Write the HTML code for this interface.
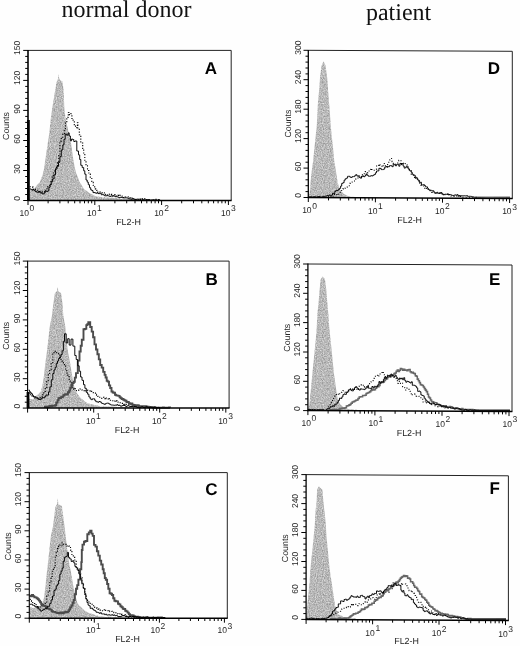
<!DOCTYPE html>
<html><head><meta charset="utf-8"><title>Figure</title>
<style>html,body{margin:0;padding:0;background:#fff}svg{display:block}</style></head>
<body><svg width="520" height="646" viewBox="0 0 520 646">
<rect width="520" height="646" fill="#fefefe"/>
<defs><filter id="nz" x="0" y="0" width="100%" height="100%" color-interpolation-filters="sRGB">
<feTurbulence type="fractalNoise" baseFrequency="0.85" numOctaves="2" seed="3" result="t"/>
<feColorMatrix in="t" type="matrix" values="0.45 0 0 0 0.50  0.45 0 0 0 0.50  0.45 0 0 0 0.50  0 0 0 0 1" result="g"/>
<feComposite in="g" in2="SourceGraphic" operator="in"/>
</filter></defs>
<g style="text-rendering:geometricPrecision" opacity="0.995">
<text x="126.4" y="17.2" text-anchor="middle" style="font-family:'Liberation Serif',serif;font-size:24px" fill="#111">normal donor</text>
<text x="398.6" y="19.8" text-anchor="middle" style="font-family:'Liberation Serif',serif;font-size:24px" fill="#111">patient</text>
<path d="M28.0 189.6 L29.7 189.6 L31.3 190.2 L33.0 190.1 L34.6 188.3 L36.2 186.3 L37.9 184.1 L39.6 182.7 L42.0 176.5 L43.7 171.0 L45.4 159.0 L47.2 147.1 L48.9 136.0 L50.1 125.3 L50.9 117.5 L52.3 107.7 L53.8 98.7 L55.2 90.1 L56.6 82.1 L58.0 79.0 L58.6 74.1 L59.2 78.5 L60.5 80.6 L62.4 81.3 L63.4 88.3 L63.9 97.6 L64.3 107.6 L65.5 118.2 L67.5 127.2 L69.2 134.9 L71.0 142.6 L73.3 159.7 L75.6 171.4 L77.7 176.7 L79.7 182.2 L81.7 185.2 L83.7 188.7 L85.3 189.9 L86.8 190.9 L88.4 192.3 L90.0 193.4 L91.7 194.0 L93.5 195.2 L95.2 196.0 L96.9 196.4 L98.4 196.6 L100.0 196.8 L101.5 197.2 L103.1 197.4 L104.6 197.1 L106.1 197.7 L107.7 197.3 L109.2 197.4 L110.8 197.8 L112.3 197.6 L113.8 197.9 L115.4 197.7 L116.9 198.2 L118.5 198.5 L120.0 198.6 L121.5 198.9 L123.0 198.6 L124.5 198.8 L126.0 198.9 L127.5 198.9 L129.0 198.9 L130.5 199.2 L132.0 199.4 L133.5 199.3 L135.0 199.3 L136.5 199.0 L138.0 199.3 L139.5 199.5 L141.0 199.8 L142.5 199.9 L144.0 199.6 L145.5 199.5 L147.0 199.8 L148.5 199.5 L150.0 199.7 L150.0 200.5 L28.0 200.5 Z" fill="#b0b0b0" stroke="none" filter="url(#nz)"/>
<path d="M29.6 186.7 L30.8 186.7 L30.8 186.9 L31.9 186.9 L31.9 187.1 L33.1 187.1 L33.1 189.2 L34.2 189.2 L34.2 189.0 L35.4 189.0 L35.4 189.6 L36.6 189.6 L36.6 190.2 L37.7 190.2 L37.7 191.6 L38.9 191.6 L38.9 190.7 L40.0 190.7 L40.0 191.3 L41.2 191.3 L41.2 191.9 L42.3 191.9 L42.3 192.2 L43.5 192.2 L43.5 191.8 L44.6 191.8 L44.6 191.4 L45.8 191.4 L45.8 189.7 L46.9 189.7 L46.9 188.8 L47.9 188.8 L47.9 186.6 L49.0 186.6 L49.0 185.8 L50.0 185.8 L50.0 184.5 L51.0 184.5 L51.0 180.7 L52.2 180.7 L52.2 176.6 L53.3 176.6 L53.3 173.0 L54.5 173.0 L54.5 169.6 L55.5 169.6 L55.5 167.6 L56.5 167.6 L56.5 165.7 L57.5 165.7 L57.5 162.2 L58.8 162.2 L58.8 154.8 L59.9 154.8 L59.9 141.1 L61.3 141.1 L61.3 137.2 L62.8 137.2 L62.8 134.1 L64.4 134.1 L64.4 130.8 L65.4 130.8 L65.4 123.0 L66.8 123.0 L66.8 117.2 L68.3 117.2 L68.3 112.5 L69.5 112.5 L69.5 114.8 L70.7 114.8 L70.7 113.8 L71.9 113.8 L71.9 118.5 L73.1 118.5 L73.1 121.1 L74.3 121.1 L74.3 124.7 L75.5 124.7 L75.5 127.6 L77.4 127.6 L77.4 122.7 L77.9 122.7 L77.9 128.6 L79.3 128.6 L79.3 134.7 L80.8 134.7 L80.8 143.0 L82.7 143.0 L82.7 150.1 L83.7 150.1 L83.7 154.6 L84.8 154.6 L84.8 160.3 L86.0 160.3 L86.0 165.8 L87.5 165.8 L87.5 170.5 L88.9 170.5 L88.9 174.0 L90.3 174.0 L90.3 177.8 L91.8 177.8 L91.8 182.3 L93.2 182.3 L93.2 185.3 L94.7 185.3 L94.7 188.9 L95.7 188.9 L95.7 189.1 L96.8 189.1 L96.8 191.4 L97.8 191.4 L97.8 192.2 L98.8 192.2 L98.8 191.9 L99.9 191.9 L99.9 192.1 L101.0 192.1 L101.0 192.5 L102.1 192.5 L102.1 192.9 L103.2 192.9 L103.2 192.7 L104.3 192.7 L104.3 194.2 L105.4 194.2 L105.4 195.3 L106.5 195.3 L106.5 195.0 L107.5 195.0 L107.5 194.9 L108.6 194.9 L108.6 194.2 L109.6 194.2 L109.6 194.0 L110.7 194.0 L110.7 194.4 L111.7 194.4 L111.7 194.5 L112.7 194.5 L112.7 195.6 L113.8 195.6 L113.8 195.0 L114.8 195.0 L114.8 194.6 L115.8 194.6 L115.8 196.0 L116.9 196.0 L116.9 196.0 L117.9 196.0 L117.9 195.4 L119.0 195.4 L119.0 195.9 L120.0 195.9 L120.0 195.3 L121.0 195.3 L121.0 196.0 L122.1 196.0 L122.1 197.2 L123.1 197.2 L123.1 197.6 L124.1 197.6 L124.1 197.6 L125.1 197.6 L125.1 197.0 L126.2 197.0 L126.2 197.0 L127.2 197.0 L127.2 196.8 L128.2 196.8 L128.2 197.7 L129.2 197.7 L129.2 197.9 L130.3 197.9 L130.3 198.4 L131.3 198.4 L131.3 198.1 L132.3 198.1 L132.3 197.9 L133.4 197.9 L133.4 198.7 L134.4 198.7 L134.4 199.4 L135.4 199.4 L135.4 199.6 L136.4 199.6 L136.4 199.7 L137.5 199.7 L137.5 199.9 L138.5 199.9 L138.5 199.9 L139.5 199.9 L139.5 199.3 L140.5 199.3 L140.5 199.4 L141.6 199.4 L141.6 199.2 L142.6 199.2 L142.6 198.8 L143.6 198.8 L143.6 198.6 L144.6 198.6 L144.6 198.9 L145.7 198.9 L145.7 199.0 L146.7 199.0 L146.7 199.5 L147.7 199.5 L147.7 200.1 L148.7 200.1 L148.7 199.8 L149.8 199.8 L149.8 200.2 L150.8 200.2 L150.8 200.2 L151.8 200.2 L151.8 200.2 L152.8 200.2 L152.8 200.0 L153.9 200.0 L153.9 199.6 L154.9 199.6 L154.9 199.5 L155.9 199.5 L155.9 199.4 L156.9 199.4 L156.9 199.4 L158.0 199.4 L158.0 199.8 L159.0 199.8 L159.0 200.2 L160.0 200.2 L160.0 200.2" fill="none" stroke="#000" stroke-width="1.1" stroke-dasharray="1.2 1.6"/>
<path d="M29.6 188.8 L30.7 188.8 L30.7 189.4 L31.8 189.4 L31.8 190.2 L32.8 190.2 L32.8 189.3 L33.9 189.3 L33.9 190.3 L35.0 190.3 L35.0 191.3 L36.0 191.3 L36.0 191.8 L37.0 191.8 L37.0 192.2 L38.0 192.2 L38.0 192.1 L39.0 192.1 L39.0 191.7 L40.0 191.7 L40.0 192.9 L41.0 192.9 L41.0 192.8 L42.0 192.8 L42.0 193.8 L43.2 193.8 L43.2 193.8 L44.3 193.8 L44.3 192.3 L45.5 192.3 L45.5 191.3 L46.6 191.3 L46.6 191.5 L47.8 191.5 L47.8 190.8 L48.9 190.8 L48.9 187.3 L50.1 187.3 L50.1 184.4 L51.2 184.4 L51.2 181.7 L52.7 181.7 L52.7 178.8 L54.1 178.8 L54.1 174.8 L55.5 174.8 L55.5 169.1 L57.0 169.1 L57.0 166.3 L58.5 166.3 L58.5 162.3 L59.9 162.3 L59.9 156.6 L61.3 156.6 L61.3 150.0 L62.8 150.0 L62.8 144.9 L64.0 144.9 L64.0 139.3 L65.2 139.3 L65.2 134.1 L66.7 134.1 L66.7 135.1 L68.1 135.1 L68.1 132.9 L69.2 132.9 L69.2 136.0 L70.4 136.0 L70.4 140.8 L71.6 140.8 L71.6 139.0 L72.7 139.0 L72.7 139.5 L73.8 139.5 L73.8 141.5 L75.0 141.5 L75.0 141.0 L76.8 141.0 L76.8 151.0 L78.5 151.0 L78.5 154.9 L79.7 154.9 L79.7 159.5 L80.8 159.5 L80.8 165.3 L82.2 165.3 L82.2 167.6 L83.7 167.6 L83.7 170.8 L84.8 170.8 L84.8 174.2 L86.0 174.2 L86.0 180.0 L87.2 180.0 L87.2 182.1 L88.3 182.1 L88.3 184.7 L89.5 184.7 L89.5 187.7 L90.7 187.7 L90.7 189.8 L91.8 189.8 L91.8 190.6 L93.0 190.6 L93.0 192.6 L94.0 192.6 L94.0 192.6 L95.0 192.6 L95.0 192.9 L96.0 192.9 L96.0 193.2 L97.0 193.2 L97.0 192.8 L98.0 192.8 L98.0 193.6 L99.1 193.6 L99.1 193.6 L100.2 193.6 L100.2 193.4 L101.3 193.4 L101.3 194.8 L102.4 194.8 L102.4 194.5 L103.5 194.5 L103.5 195.1 L104.6 195.1 L104.6 195.8 L105.6 195.8 L105.6 195.9 L106.7 195.9 L106.7 195.6 L107.7 195.6 L107.7 195.8 L108.7 195.8 L108.7 196.0 L109.7 196.0 L109.7 196.5 L110.8 196.5 L110.8 195.8 L111.8 195.8 L111.8 196.2 L112.8 196.2 L112.8 195.9 L113.8 195.9 L113.8 195.9 L114.9 195.9 L114.9 196.7 L115.9 196.7 L115.9 196.7 L116.9 196.7 L116.9 196.8 L117.9 196.8 L117.9 197.2 L119.0 197.2 L119.0 197.7 L120.0 197.7 L120.0 197.3 L121.0 197.3 L121.0 197.4 L122.1 197.4 L122.1 197.4 L123.1 197.4 L123.1 197.5 L124.1 197.5 L124.1 197.9 L125.1 197.9 L125.1 197.8 L126.2 197.8 L126.2 197.9 L127.2 197.9 L127.2 198.0 L128.2 198.0 L128.2 198.7 L129.2 198.7 L129.2 198.8 L130.3 198.8 L130.3 199.1 L131.3 199.1 L131.3 199.4 L132.3 199.4 L132.3 198.8 L133.4 198.8 L133.4 199.0 L134.4 199.0 L134.4 199.6 L135.4 199.6 L135.4 199.8 L136.4 199.8 L136.4 199.2 L137.5 199.2 L137.5 199.0 L138.5 199.0 L138.5 199.3 L139.5 199.3 L139.5 199.1 L140.5 199.1 L140.5 199.1 L141.6 199.1 L141.6 199.0 L142.6 199.0 L142.6 199.6 L143.6 199.6 L143.6 199.9 L144.6 199.9 L144.6 200.2 L145.7 200.2 L145.7 199.6 L146.7 199.6 L146.7 199.9 L147.7 199.9 L147.7 200.0 L148.7 200.0 L148.7 199.6 L149.8 199.6 L149.8 200.1 L150.8 200.1 L150.8 200.2 L151.8 200.2 L151.8 199.8 L152.8 199.8 L152.8 200.2 L153.9 200.2 L153.9 200.0 L154.9 200.0 L154.9 199.9 L155.9 199.9 L155.9 200.2 L156.9 200.2 L156.9 200.2 L158.0 200.2 L158.0 199.9 L159.0 199.9 L159.0 199.9 L160.0 199.9 L160.0 200.0" fill="none" stroke="#000" stroke-width="0.95"/>
<rect x="27.0" y="120.0" width="2.8" height="80.5" fill="#000"/>
<path d="M28.0 50.4 L231.2 50.4 L231.2 200.5" fill="none" stroke="#222" stroke-width="1"/>
<line x1="28.0" y1="50.0" x2="28.0" y2="201.1" stroke="#000" stroke-width="1.6"/>
<line x1="27.4" y1="200.5" x2="231.6" y2="200.5" stroke="#000" stroke-width="1.5"/>
<line x1="23.2" y1="50.4" x2="28.0" y2="50.4" stroke="#000" stroke-width="1"/>
<line x1="25.2" y1="56.4" x2="28.0" y2="56.4" stroke="#000" stroke-width="1"/>
<line x1="25.2" y1="62.4" x2="28.0" y2="62.4" stroke="#000" stroke-width="1"/>
<line x1="25.2" y1="68.4" x2="28.0" y2="68.4" stroke="#000" stroke-width="1"/>
<line x1="25.2" y1="74.4" x2="28.0" y2="74.4" stroke="#000" stroke-width="1"/>
<line x1="23.2" y1="80.4" x2="28.0" y2="80.4" stroke="#000" stroke-width="1"/>
<line x1="25.2" y1="86.4" x2="28.0" y2="86.4" stroke="#000" stroke-width="1"/>
<line x1="25.2" y1="92.4" x2="28.0" y2="92.4" stroke="#000" stroke-width="1"/>
<line x1="25.2" y1="98.4" x2="28.0" y2="98.4" stroke="#000" stroke-width="1"/>
<line x1="25.2" y1="104.4" x2="28.0" y2="104.4" stroke="#000" stroke-width="1"/>
<line x1="23.2" y1="110.4" x2="28.0" y2="110.4" stroke="#000" stroke-width="1"/>
<line x1="25.2" y1="116.4" x2="28.0" y2="116.4" stroke="#000" stroke-width="1"/>
<line x1="25.2" y1="122.4" x2="28.0" y2="122.4" stroke="#000" stroke-width="1"/>
<line x1="25.2" y1="128.5" x2="28.0" y2="128.5" stroke="#000" stroke-width="1"/>
<line x1="25.2" y1="134.5" x2="28.0" y2="134.5" stroke="#000" stroke-width="1"/>
<line x1="23.2" y1="140.5" x2="28.0" y2="140.5" stroke="#000" stroke-width="1"/>
<line x1="25.2" y1="146.5" x2="28.0" y2="146.5" stroke="#000" stroke-width="1"/>
<line x1="25.2" y1="152.5" x2="28.0" y2="152.5" stroke="#000" stroke-width="1"/>
<line x1="25.2" y1="158.5" x2="28.0" y2="158.5" stroke="#000" stroke-width="1"/>
<line x1="25.2" y1="164.5" x2="28.0" y2="164.5" stroke="#000" stroke-width="1"/>
<line x1="23.2" y1="170.5" x2="28.0" y2="170.5" stroke="#000" stroke-width="1"/>
<line x1="25.2" y1="176.5" x2="28.0" y2="176.5" stroke="#000" stroke-width="1"/>
<line x1="25.2" y1="182.5" x2="28.0" y2="182.5" stroke="#000" stroke-width="1"/>
<line x1="25.2" y1="188.5" x2="28.0" y2="188.5" stroke="#000" stroke-width="1"/>
<line x1="25.2" y1="194.5" x2="28.0" y2="194.5" stroke="#000" stroke-width="1"/>
<line x1="23.2" y1="200.5" x2="28.0" y2="200.5" stroke="#000" stroke-width="1"/>
<text transform="translate(19.7 47.8) rotate(-90)" text-anchor="middle" style="font-family:'Liberation Sans',sans-serif;font-size:8.5px" fill="#222">150</text>
<text transform="translate(19.7 77.8) rotate(-90)" text-anchor="middle" style="font-family:'Liberation Sans',sans-serif;font-size:8.5px" fill="#222">120</text>
<text transform="translate(19.7 108.9) rotate(-90)" text-anchor="middle" style="font-family:'Liberation Sans',sans-serif;font-size:8.5px" fill="#222">90</text>
<text transform="translate(19.7 139.0) rotate(-90)" text-anchor="middle" style="font-family:'Liberation Sans',sans-serif;font-size:8.5px" fill="#222">60</text>
<text transform="translate(19.7 169.0) rotate(-90)" text-anchor="middle" style="font-family:'Liberation Sans',sans-serif;font-size:8.5px" fill="#222">30</text>
<text transform="translate(19.7 198.5) rotate(-90)" text-anchor="middle" style="font-family:'Liberation Sans',sans-serif;font-size:8.5px" fill="#222">0</text>
<text transform="translate(9.4 126.0) rotate(-90)" text-anchor="middle" style="font-family:'Liberation Sans',sans-serif;font-size:8.8px" fill="#222">Counts</text>
<line x1="28.0" y1="200.5" x2="28.0" y2="205.0" stroke="#000" stroke-width="1"/>
<line x1="48.1" y1="200.5" x2="48.1" y2="203.3" stroke="#000" stroke-width="1"/>
<line x1="59.9" y1="200.5" x2="59.9" y2="203.3" stroke="#000" stroke-width="1"/>
<line x1="68.2" y1="200.5" x2="68.2" y2="203.3" stroke="#000" stroke-width="1"/>
<line x1="74.7" y1="200.5" x2="74.7" y2="203.3" stroke="#000" stroke-width="1"/>
<line x1="80.0" y1="200.5" x2="80.0" y2="203.3" stroke="#000" stroke-width="1"/>
<line x1="84.5" y1="200.5" x2="84.5" y2="203.3" stroke="#000" stroke-width="1"/>
<line x1="88.3" y1="200.5" x2="88.3" y2="203.3" stroke="#000" stroke-width="1"/>
<line x1="91.7" y1="200.5" x2="91.7" y2="203.3" stroke="#000" stroke-width="1"/>
<line x1="94.8" y1="200.5" x2="94.8" y2="205.0" stroke="#000" stroke-width="1"/>
<line x1="114.9" y1="200.5" x2="114.9" y2="203.3" stroke="#000" stroke-width="1"/>
<line x1="126.7" y1="200.5" x2="126.7" y2="203.3" stroke="#000" stroke-width="1"/>
<line x1="135.0" y1="200.5" x2="135.0" y2="203.3" stroke="#000" stroke-width="1"/>
<line x1="141.5" y1="200.5" x2="141.5" y2="203.3" stroke="#000" stroke-width="1"/>
<line x1="146.8" y1="200.5" x2="146.8" y2="203.3" stroke="#000" stroke-width="1"/>
<line x1="151.3" y1="200.5" x2="151.3" y2="203.3" stroke="#000" stroke-width="1"/>
<line x1="155.1" y1="200.5" x2="155.1" y2="203.3" stroke="#000" stroke-width="1"/>
<line x1="158.5" y1="200.5" x2="158.5" y2="203.3" stroke="#000" stroke-width="1"/>
<line x1="161.6" y1="200.5" x2="161.6" y2="205.0" stroke="#000" stroke-width="1"/>
<line x1="181.7" y1="200.5" x2="181.7" y2="203.3" stroke="#000" stroke-width="1"/>
<line x1="193.5" y1="200.5" x2="193.5" y2="203.3" stroke="#000" stroke-width="1"/>
<line x1="201.8" y1="200.5" x2="201.8" y2="203.3" stroke="#000" stroke-width="1"/>
<line x1="208.3" y1="200.5" x2="208.3" y2="203.3" stroke="#000" stroke-width="1"/>
<line x1="213.6" y1="200.5" x2="213.6" y2="203.3" stroke="#000" stroke-width="1"/>
<line x1="218.1" y1="200.5" x2="218.1" y2="203.3" stroke="#000" stroke-width="1"/>
<line x1="221.9" y1="200.5" x2="221.9" y2="203.3" stroke="#000" stroke-width="1"/>
<line x1="225.3" y1="200.5" x2="225.3" y2="203.3" stroke="#000" stroke-width="1"/>
<line x1="228.4" y1="200.5" x2="228.4" y2="205.0" stroke="#000" stroke-width="1"/>
<text x="29.0" y="215.6" text-anchor="end" style="font-family:'Liberation Sans',sans-serif;font-size:8.5px" fill="#222">10</text>
<text x="29.6" y="211.0" text-anchor="start" style="font-family:'Liberation Sans',sans-serif;font-size:8.5px" fill="#222">0</text>
<text x="96.5" y="215.6" text-anchor="end" style="font-family:'Liberation Sans',sans-serif;font-size:8.5px" fill="#222">10</text>
<text x="97.1" y="211.0" text-anchor="start" style="font-family:'Liberation Sans',sans-serif;font-size:8.5px" fill="#222">1</text>
<text x="163.6" y="215.6" text-anchor="end" style="font-family:'Liberation Sans',sans-serif;font-size:8.5px" fill="#222">10</text>
<text x="164.2" y="211.0" text-anchor="start" style="font-family:'Liberation Sans',sans-serif;font-size:8.5px" fill="#222">2</text>
<text x="230.4" y="215.6" text-anchor="end" style="font-family:'Liberation Sans',sans-serif;font-size:8.5px" fill="#222">10</text>
<text x="231.0" y="211.0" text-anchor="start" style="font-family:'Liberation Sans',sans-serif;font-size:8.5px" fill="#222">3</text>
<text x="128.5" y="225.0" text-anchor="middle" style="font-family:'Liberation Sans',sans-serif;font-size:8.9px" fill="#222">FL2-H</text>
<text x="210.9" y="74.0" text-anchor="middle" style="font-family:'Liberation Sans',sans-serif;font-size:17px;font-weight:bold" fill="#000">A</text>
<path d="M27.6 398.8 L29.4 398.8 L31.2 399.0 L33.0 399.6 L34.8 397.1 L36.6 395.5 L38.7 393.8 L40.7 391.6 L42.4 385.9 L44.1 374.8 L45.3 363.2 L47.0 350.9 L48.2 340.5 L49.6 327.2 L51.9 316.1 L53.4 303.0 L54.9 293.3 L57.0 290.7 L57.7 287.0 L58.4 291.5 L61.0 292.9 L62.4 302.6 L63.3 315.4 L65.4 327.3 L66.2 337.9 L67.9 351.0 L70.2 363.6 L72.0 375.1 L74.3 386.8 L76.0 391.9 L78.4 395.1 L79.9 397.2 L81.5 398.7 L83.0 399.8 L84.5 401.3 L86.1 402.2 L87.7 403.2 L89.2 403.5 L90.9 404.3 L92.5 404.2 L94.2 405.1 L95.8 405.3 L97.5 405.6 L99.1 406.1 L100.8 406.8 L102.3 406.5 L103.9 406.3 L105.4 406.6 L106.9 406.5 L108.5 406.4 L110.0 406.5 L111.6 406.4 L113.1 406.5 L114.6 406.7 L116.2 406.8 L117.7 407.2 L119.2 407.1 L120.8 407.2 L122.3 407.1 L123.9 407.2 L125.4 407.0 L126.9 407.2 L128.5 407.1 L130.0 407.5 L130.0 408.1 L27.6 408.1 Z" fill="#b0b0b0" stroke="none" filter="url(#nz)"/>
<path d="M28.5 393.1 L29.6 393.1 L29.6 393.3 L30.8 393.3 L30.8 394.6 L31.9 394.6 L31.9 396.8 L33.0 396.8 L33.0 396.5 L34.0 396.5 L34.0 397.9 L35.0 397.9 L35.0 397.9 L36.0 397.9 L36.0 398.2 L37.0 398.2 L37.0 399.3 L38.0 399.3 L38.0 399.1 L39.1 399.1 L39.1 397.9 L40.2 397.9 L40.2 397.2 L41.3 397.2 L41.3 396.9 L42.4 396.9 L42.4 394.7 L43.8 394.7 L43.8 391.4 L45.3 391.4 L45.3 387.4 L46.8 387.4 L46.8 381.5 L48.2 381.5 L48.2 374.9 L49.7 374.9 L49.7 369.6 L51.1 369.6 L51.1 363.6 L52.8 363.6 L52.8 352.8 L54.0 352.8 L54.0 351.2 L55.2 351.2 L55.2 352.5 L56.4 352.5 L56.4 352.8 L57.5 352.8 L57.5 353.2 L58.6 353.2 L58.6 353.8 L59.8 353.8 L59.8 357.6 L61.0 357.6 L61.0 360.9 L62.1 360.9 L62.1 362.6 L63.3 362.6 L63.3 363.0 L64.4 363.0 L64.4 365.7 L65.6 365.7 L65.6 369.0 L66.8 369.0 L66.8 373.0 L67.9 373.0 L67.9 375.7 L69.1 375.7 L69.1 379.2 L70.2 379.2 L70.2 381.8 L71.4 381.8 L71.4 385.6 L72.6 385.6 L72.6 388.4 L73.8 388.4 L73.8 389.4 L75.1 389.4 L75.1 388.8 L76.4 388.8 L76.4 390.7 L77.7 390.7 L77.7 390.2 L78.8 390.2 L78.8 390.0 L79.9 390.0 L79.9 389.0 L81.0 389.0 L81.0 389.7 L82.1 389.7 L82.1 390.3 L83.2 390.3 L83.2 390.7 L84.3 390.7 L84.3 390.2 L85.4 390.2 L85.4 390.8 L86.6 390.8 L86.6 390.1 L87.7 390.1 L87.7 390.7 L88.9 390.7 L88.9 390.7 L90.0 390.7 L90.0 391.7 L91.2 391.7 L91.2 391.4 L92.3 391.4 L92.3 391.6 L93.3 391.6 L93.3 392.6 L94.4 392.6 L94.4 393.1 L95.5 393.1 L95.5 394.4 L96.5 394.4 L96.5 395.1 L97.6 395.1 L97.6 396.2 L98.7 396.2 L98.7 396.7 L99.7 396.7 L99.7 397.3 L100.8 397.3 L100.8 398.2 L101.9 398.2 L101.9 397.5 L102.9 397.5 L102.9 397.3 L104.0 397.3 L104.0 398.7 L105.1 398.7 L105.1 397.7 L106.1 397.7 L106.1 398.6 L107.2 398.6 L107.2 399.0 L108.3 399.0 L108.3 398.0 L109.3 398.0 L109.3 399.4 L110.4 399.4 L110.4 400.3 L111.5 400.3 L111.5 400.3 L112.6 400.3 L112.6 400.8 L113.7 400.8 L113.7 401.3 L114.8 401.3 L114.8 400.4 L115.9 400.4 L115.9 400.9 L117.0 400.9 L117.0 401.3 L118.1 401.3 L118.1 402.3 L119.2 402.3 L119.2 402.8 L120.3 402.8 L120.3 403.4 L121.4 403.4 L121.4 403.4 L122.5 403.4 L122.5 404.2 L123.7 404.2 L123.7 404.4 L124.8 404.4 L124.8 404.8 L125.9 404.8 L125.9 404.4 L127.0 404.4 L127.0 404.2 L128.0 404.2 L128.0 404.3 L129.0 404.3 L129.0 404.8 L130.0 404.8 L130.0 404.7 L131.0 404.7 L131.0 405.8 L132.0 405.8 L132.0 406.0 L133.0 406.0 L133.0 406.3 L134.0 406.3 L134.0 406.5 L135.0 406.5 L135.0 406.8 L136.0 406.8 L136.0 406.7 L137.0 406.7 L137.0 406.2 L138.0 406.2 L138.0 407.1 L139.0 407.1 L139.0 407.5 L140.0 407.5 L140.0 407.5" fill="none" stroke="#000" stroke-width="1.1" stroke-dasharray="1.2 1.6"/>
<path d="M44.0 406.8 L45.0 406.8 L45.0 407.1 L46.0 407.1 L46.0 406.8 L47.0 406.8 L47.0 407.4 L48.0 407.4 L48.0 406.8 L49.0 406.8 L49.0 406.2 L50.1 406.2 L50.1 406.0 L51.1 406.0 L51.1 406.2 L52.1 406.2 L52.1 405.6 L53.2 405.6 L53.2 405.7 L54.2 405.7 L54.2 405.9 L55.2 405.9 L55.2 405.3 L56.3 405.3 L56.3 402.6 L57.5 402.6 L57.5 400.3 L58.6 400.3 L58.6 398.3 L59.8 398.3 L59.8 398.0 L61.0 398.0 L61.0 397.3 L62.1 397.3 L62.1 396.7 L63.3 396.7 L63.3 395.2 L64.5 395.2 L64.5 394.4 L65.6 394.4 L65.6 394.1 L66.8 394.1 L66.8 394.6 L67.9 394.6 L67.9 392.2 L69.1 392.2 L69.1 390.6 L70.2 390.6 L70.2 387.7 L71.4 387.7 L71.4 385.0 L72.5 385.0 L72.5 383.0 L73.7 383.0 L73.7 381.7 L74.8 381.7 L74.8 377.6 L76.0 377.6 L76.0 373.1 L77.8 373.1 L77.8 360.6 L79.5 360.6 L79.5 351.5 L80.7 351.5 L80.7 345.7 L81.8 345.7 L81.8 339.8 L83.5 339.8 L83.5 329.2 L84.9 329.2 L84.9 328.9 L86.3 328.9 L86.3 325.1 L87.3 325.1 L87.3 324.3 L88.3 324.3 L88.3 322.2 L90.2 322.2 L90.2 327.0 L91.7 327.0 L91.7 331.6 L93.1 331.6 L93.1 337.2 L94.5 337.2 L94.5 344.4 L96.0 344.4 L96.0 349.5 L97.4 349.5 L97.4 354.2 L98.8 354.2 L98.8 359.4 L100.2 359.4 L100.2 365.0 L101.7 365.0 L101.7 367.6 L103.2 367.6 L103.2 371.9 L104.6 371.9 L104.6 374.9 L105.6 374.9 L105.6 377.5 L106.7 377.5 L106.7 380.8 L107.7 380.8 L107.7 381.6 L109.0 381.6 L109.0 385.4 L110.2 385.4 L110.2 388.0 L111.5 388.0 L111.5 391.5 L112.7 391.5 L112.7 392.5 L113.8 392.5 L113.8 392.7 L115.0 392.7 L115.0 394.7 L116.1 394.7 L116.1 395.4 L117.3 395.4 L117.3 395.6 L118.4 395.6 L118.4 395.9 L119.6 395.9 L119.6 397.3 L120.7 397.3 L120.7 398.3 L121.9 398.3 L121.9 399.0 L123.0 399.0 L123.0 399.5 L124.2 399.5 L124.2 400.2 L125.3 400.2 L125.3 400.8 L126.5 400.8 L126.5 402.1 L127.6 402.1 L127.6 401.9 L128.8 401.9 L128.8 403.1 L130.0 403.1 L130.0 403.9 L131.1 403.9 L131.1 403.5 L132.3 403.5 L132.3 404.6 L133.4 404.6 L133.4 405.0 L134.6 405.0 L134.6 405.7 L135.7 405.7 L135.7 405.3 L136.8 405.3 L136.8 405.3 L137.9 405.3 L137.9 405.5 L139.0 405.5 L139.0 406.3 L140.1 406.3 L140.1 406.4 L141.2 406.4 L141.2 406.3 L142.3 406.3 L142.3 406.4 L143.3 406.4 L143.3 406.3 L144.4 406.3 L144.4 406.1 L145.4 406.1 L145.4 406.1 L146.5 406.1 L146.5 406.9 L147.5 406.9 L147.5 406.8 L148.6 406.8 L148.6 407.4 L149.6 407.4 L149.6 407.1 L150.7 407.1 L150.7 407.0 L151.7 407.0 L151.7 407.2 L152.8 407.2 L152.8 407.1 L153.8 407.1 L153.8 407.3 L154.8 407.3 L154.8 407.8 L155.8 407.8 L155.8 407.8 L156.8 407.8 L156.8 407.8 L157.9 407.8 L157.9 407.8 L158.9 407.8 L158.9 407.8 L159.9 407.8 L159.9 407.8 L160.9 407.8 L160.9 407.8 L161.9 407.8 L161.9 407.8 L162.9 407.8 L162.9 407.4 L163.9 407.4 L163.9 407.8 L164.9 407.8 L164.9 407.7 L165.9 407.7 L165.9 407.8 L167.0 407.8 L167.0 407.8 L168.0 407.8 L168.0 407.7 L169.0 407.7 L169.0 407.4 L170.0 407.4 L170.0 407.8" fill="none" stroke="#4a4a4a" stroke-width="1.90" stroke-linejoin="miter"/>
<path d="M28.5 390.1 L29.5 390.1 L29.5 391.7 L30.5 391.7 L30.5 392.8 L31.5 392.8 L31.5 393.8 L32.5 393.8 L32.5 395.4 L33.5 395.4 L33.5 397.0 L34.6 397.0 L34.6 396.6 L35.6 396.6 L35.6 397.6 L36.6 397.6 L36.6 397.8 L37.8 397.8 L37.8 398.8 L38.9 398.8 L38.9 399.3 L40.1 399.3 L40.1 399.6 L41.2 399.6 L41.2 398.4 L42.4 398.4 L42.4 397.4 L43.5 397.4 L43.5 397.8 L44.7 397.8 L44.7 396.6 L45.9 396.6 L45.9 395.0 L47.0 395.0 L47.0 395.1 L48.5 395.1 L48.5 391.9 L49.9 391.9 L49.9 386.9 L51.3 386.9 L51.3 379.8 L52.8 379.8 L52.8 373.5 L54.0 373.5 L54.0 369.9 L55.1 369.9 L55.1 367.3 L56.3 367.3 L56.3 363.5 L57.5 363.5 L57.5 361.0 L58.6 361.0 L58.6 358.5 L59.8 358.5 L59.8 356.9 L61.0 356.9 L61.0 354.6 L62.1 354.6 L62.1 350.8 L63.4 350.8 L63.4 341.5 L64.5 341.5 L64.5 333.8 L66.2 333.8 L66.2 343.0 L67.7 343.0 L67.7 338.7 L69.2 338.7 L69.2 345.1 L71.0 345.1 L71.0 339.1 L72.9 339.1 L72.9 346.1 L74.8 346.1 L74.8 355.5 L76.2 355.5 L76.2 359.5 L77.7 359.5 L77.7 365.8 L79.2 365.8 L79.2 371.2 L80.6 371.2 L80.6 377.0 L82.0 377.0 L82.0 380.3 L83.5 380.3 L83.5 384.7 L84.9 384.7 L84.9 388.3 L86.3 388.3 L86.3 392.4 L87.6 392.4 L87.6 394.2 L88.9 394.2 L88.9 397.0 L90.2 397.0 L90.2 398.9 L91.3 398.9 L91.3 399.7 L92.4 399.7 L92.4 398.8 L93.6 398.8 L93.6 398.8 L94.7 398.8 L94.7 400.3 L95.8 400.3 L95.8 401.7 L96.9 401.7 L96.9 401.9 L98.0 401.9 L98.0 402.2 L99.0 402.2 L99.0 401.5 L100.1 401.5 L100.1 401.9 L101.2 401.9 L101.2 403.0 L102.2 403.0 L102.2 403.5 L103.3 403.5 L103.3 403.9 L104.4 403.9 L104.4 404.4 L105.4 404.4 L105.4 403.6 L106.5 403.6 L106.5 403.2 L107.5 403.2 L107.5 403.1 L108.6 403.1 L108.6 403.7 L109.6 403.7 L109.6 404.3 L110.7 404.3 L110.7 405.0 L111.7 405.0 L111.7 405.0 L112.7 405.0 L112.7 405.1 L113.8 405.1 L113.8 405.3 L114.8 405.3 L114.8 405.1 L115.8 405.1 L115.8 405.2 L116.9 405.2 L116.9 404.6 L117.9 404.6 L117.9 405.4 L119.0 405.4 L119.0 405.2 L120.0 405.2 L120.0 406.0 L121.0 406.0 L121.0 406.1 L122.0 406.1 L122.0 405.7 L123.0 405.7 L123.0 405.4 L124.0 405.4 L124.0 405.5 L125.0 405.5 L125.0 406.0 L126.0 406.0 L126.0 406.4 L127.0 406.4 L127.0 405.9 L128.0 405.9 L128.0 405.7 L129.0 405.7 L129.0 406.2 L130.0 406.2 L130.0 406.5 L131.0 406.5 L131.0 406.5 L132.0 406.5 L132.0 406.4 L133.0 406.4 L133.0 406.8 L134.0 406.8 L134.0 406.4 L135.0 406.4 L135.0 406.6 L136.0 406.6 L136.0 406.8 L137.0 406.8 L137.0 407.4 L138.0 407.4 L138.0 407.4 L139.0 407.4 L139.0 407.6 L140.0 407.6 L140.0 407.4 L141.0 407.4 L141.0 407.0 L142.0 407.0 L142.0 406.9 L143.0 406.9 L143.0 407.5 L144.0 407.5 L144.0 407.6 L145.0 407.6 L145.0 407.2 L146.0 407.2 L146.0 406.8 L147.0 406.8 L147.0 407.1 L148.0 407.1 L148.0 407.4 L149.0 407.4 L149.0 407.3 L150.0 407.3 L150.0 407.2 L151.0 407.2 L151.0 407.5 L152.0 407.5 L152.0 407.8 L153.0 407.8 L153.0 407.4 L154.0 407.4 L154.0 407.1 L155.0 407.1 L155.0 407.2 L156.0 407.2 L156.0 407.4 L157.0 407.4 L157.0 407.7 L158.0 407.7 L158.0 407.4 L159.0 407.4 L159.0 407.8 L160.0 407.8 L160.0 407.8" fill="none" stroke="#000" stroke-width="0.95"/>
<rect x="26.6" y="392.0" width="2.8" height="16.1" fill="#000"/>
<path d="M27.6 261.1 L229.1 261.1 L229.1 408.1" fill="none" stroke="#222" stroke-width="1"/>
<line x1="27.6" y1="260.7" x2="27.6" y2="408.7" stroke="#000" stroke-width="1.1"/>
<line x1="27.0" y1="408.1" x2="229.5" y2="408.1" stroke="#000" stroke-width="1.5"/>
<line x1="22.8" y1="261.1" x2="27.6" y2="261.1" stroke="#000" stroke-width="1"/>
<line x1="24.8" y1="267.0" x2="27.6" y2="267.0" stroke="#000" stroke-width="1"/>
<line x1="24.8" y1="272.9" x2="27.6" y2="272.9" stroke="#000" stroke-width="1"/>
<line x1="24.8" y1="278.7" x2="27.6" y2="278.7" stroke="#000" stroke-width="1"/>
<line x1="24.8" y1="284.6" x2="27.6" y2="284.6" stroke="#000" stroke-width="1"/>
<line x1="22.8" y1="290.5" x2="27.6" y2="290.5" stroke="#000" stroke-width="1"/>
<line x1="24.8" y1="296.4" x2="27.6" y2="296.4" stroke="#000" stroke-width="1"/>
<line x1="24.8" y1="302.3" x2="27.6" y2="302.3" stroke="#000" stroke-width="1"/>
<line x1="24.8" y1="308.1" x2="27.6" y2="308.1" stroke="#000" stroke-width="1"/>
<line x1="24.8" y1="314.0" x2="27.6" y2="314.0" stroke="#000" stroke-width="1"/>
<line x1="22.8" y1="319.9" x2="27.6" y2="319.9" stroke="#000" stroke-width="1"/>
<line x1="24.8" y1="325.8" x2="27.6" y2="325.8" stroke="#000" stroke-width="1"/>
<line x1="24.8" y1="331.7" x2="27.6" y2="331.7" stroke="#000" stroke-width="1"/>
<line x1="24.8" y1="337.5" x2="27.6" y2="337.5" stroke="#000" stroke-width="1"/>
<line x1="24.8" y1="343.4" x2="27.6" y2="343.4" stroke="#000" stroke-width="1"/>
<line x1="22.8" y1="349.3" x2="27.6" y2="349.3" stroke="#000" stroke-width="1"/>
<line x1="24.8" y1="355.2" x2="27.6" y2="355.2" stroke="#000" stroke-width="1"/>
<line x1="24.8" y1="361.1" x2="27.6" y2="361.1" stroke="#000" stroke-width="1"/>
<line x1="24.8" y1="366.9" x2="27.6" y2="366.9" stroke="#000" stroke-width="1"/>
<line x1="24.8" y1="372.8" x2="27.6" y2="372.8" stroke="#000" stroke-width="1"/>
<line x1="22.8" y1="378.7" x2="27.6" y2="378.7" stroke="#000" stroke-width="1"/>
<line x1="24.8" y1="384.6" x2="27.6" y2="384.6" stroke="#000" stroke-width="1"/>
<line x1="24.8" y1="390.5" x2="27.6" y2="390.5" stroke="#000" stroke-width="1"/>
<line x1="24.8" y1="396.3" x2="27.6" y2="396.3" stroke="#000" stroke-width="1"/>
<line x1="24.8" y1="402.2" x2="27.6" y2="402.2" stroke="#000" stroke-width="1"/>
<line x1="22.8" y1="408.1" x2="27.6" y2="408.1" stroke="#000" stroke-width="1"/>
<text transform="translate(19.7 258.5) rotate(-90)" text-anchor="middle" style="font-family:'Liberation Sans',sans-serif;font-size:8.5px" fill="#222">150</text>
<text transform="translate(19.7 287.9) rotate(-90)" text-anchor="middle" style="font-family:'Liberation Sans',sans-serif;font-size:8.5px" fill="#222">120</text>
<text transform="translate(19.7 318.4) rotate(-90)" text-anchor="middle" style="font-family:'Liberation Sans',sans-serif;font-size:8.5px" fill="#222">90</text>
<text transform="translate(19.7 347.8) rotate(-90)" text-anchor="middle" style="font-family:'Liberation Sans',sans-serif;font-size:8.5px" fill="#222">60</text>
<text transform="translate(19.7 377.2) rotate(-90)" text-anchor="middle" style="font-family:'Liberation Sans',sans-serif;font-size:8.5px" fill="#222">30</text>
<text transform="translate(19.7 406.1) rotate(-90)" text-anchor="middle" style="font-family:'Liberation Sans',sans-serif;font-size:8.5px" fill="#222">0</text>
<text transform="translate(9.4 335.9) rotate(-90)" text-anchor="middle" style="font-family:'Liberation Sans',sans-serif;font-size:8.8px" fill="#222">Counts</text>
<line x1="27.6" y1="408.1" x2="27.6" y2="412.6" stroke="#000" stroke-width="1"/>
<line x1="47.5" y1="408.1" x2="47.5" y2="410.9" stroke="#000" stroke-width="1"/>
<line x1="59.1" y1="408.1" x2="59.1" y2="410.9" stroke="#000" stroke-width="1"/>
<line x1="67.4" y1="408.1" x2="67.4" y2="410.9" stroke="#000" stroke-width="1"/>
<line x1="73.8" y1="408.1" x2="73.8" y2="410.9" stroke="#000" stroke-width="1"/>
<line x1="79.0" y1="408.1" x2="79.0" y2="410.9" stroke="#000" stroke-width="1"/>
<line x1="83.4" y1="408.1" x2="83.4" y2="410.9" stroke="#000" stroke-width="1"/>
<line x1="87.3" y1="408.1" x2="87.3" y2="410.9" stroke="#000" stroke-width="1"/>
<line x1="90.6" y1="408.1" x2="90.6" y2="410.9" stroke="#000" stroke-width="1"/>
<line x1="93.7" y1="408.1" x2="93.7" y2="412.6" stroke="#000" stroke-width="1"/>
<line x1="113.6" y1="408.1" x2="113.6" y2="410.9" stroke="#000" stroke-width="1"/>
<line x1="125.2" y1="408.1" x2="125.2" y2="410.9" stroke="#000" stroke-width="1"/>
<line x1="133.4" y1="408.1" x2="133.4" y2="410.9" stroke="#000" stroke-width="1"/>
<line x1="139.8" y1="408.1" x2="139.8" y2="410.9" stroke="#000" stroke-width="1"/>
<line x1="145.1" y1="408.1" x2="145.1" y2="410.9" stroke="#000" stroke-width="1"/>
<line x1="149.5" y1="408.1" x2="149.5" y2="410.9" stroke="#000" stroke-width="1"/>
<line x1="153.3" y1="408.1" x2="153.3" y2="410.9" stroke="#000" stroke-width="1"/>
<line x1="156.7" y1="408.1" x2="156.7" y2="410.9" stroke="#000" stroke-width="1"/>
<line x1="159.7" y1="408.1" x2="159.7" y2="412.6" stroke="#000" stroke-width="1"/>
<line x1="179.6" y1="408.1" x2="179.6" y2="410.9" stroke="#000" stroke-width="1"/>
<line x1="191.3" y1="408.1" x2="191.3" y2="410.9" stroke="#000" stroke-width="1"/>
<line x1="199.5" y1="408.1" x2="199.5" y2="410.9" stroke="#000" stroke-width="1"/>
<line x1="205.9" y1="408.1" x2="205.9" y2="410.9" stroke="#000" stroke-width="1"/>
<line x1="211.1" y1="408.1" x2="211.1" y2="410.9" stroke="#000" stroke-width="1"/>
<line x1="215.6" y1="408.1" x2="215.6" y2="410.9" stroke="#000" stroke-width="1"/>
<line x1="219.4" y1="408.1" x2="219.4" y2="410.9" stroke="#000" stroke-width="1"/>
<line x1="222.8" y1="408.1" x2="222.8" y2="410.9" stroke="#000" stroke-width="1"/>
<line x1="225.8" y1="408.1" x2="225.8" y2="412.6" stroke="#000" stroke-width="1"/>
<text x="95.5" y="423.6" text-anchor="end" style="font-family:'Liberation Sans',sans-serif;font-size:8.5px" fill="#222">10</text>
<text x="96.1" y="419.0" text-anchor="start" style="font-family:'Liberation Sans',sans-serif;font-size:8.5px" fill="#222">1</text>
<text x="161.5" y="423.6" text-anchor="end" style="font-family:'Liberation Sans',sans-serif;font-size:8.5px" fill="#222">10</text>
<text x="162.1" y="419.0" text-anchor="start" style="font-family:'Liberation Sans',sans-serif;font-size:8.5px" fill="#222">2</text>
<text x="227.6" y="423.6" text-anchor="end" style="font-family:'Liberation Sans',sans-serif;font-size:8.5px" fill="#222">10</text>
<text x="228.2" y="419.0" text-anchor="start" style="font-family:'Liberation Sans',sans-serif;font-size:8.5px" fill="#222">3</text>
<text x="127.1" y="432.8" text-anchor="middle" style="font-family:'Liberation Sans',sans-serif;font-size:8.9px" fill="#222">FL2-H</text>
<text x="211.6" y="285.2" text-anchor="middle" style="font-family:'Liberation Sans',sans-serif;font-size:17px;font-weight:bold" fill="#000">B</text>
<path d="M29.4 607.5 L31.0 607.3 L32.7 608.1 L34.4 607.8 L36.0 608.3 L37.7 607.1 L39.5 606.1 L41.2 605.8 L43.0 602.0 L44.1 596.9 L45.6 585.0 L46.8 572.8 L48.2 560.9 L49.5 548.6 L50.8 536.5 L53.1 525.8 L54.6 512.9 L55.4 507.0 L57.0 504.2 L57.7 498.2 L58.4 504.5 L60.1 505.0 L61.9 505.9 L62.7 512.3 L64.4 525.2 L65.8 537.3 L67.3 549.8 L69.1 562.8 L71.4 574.4 L73.1 585.1 L75.5 596.1 L77.2 602.6 L79.5 606.1 L81.1 606.9 L82.6 608.8 L84.2 610.2 L85.9 611.3 L87.5 612.3 L89.2 613.3 L90.9 613.5 L92.5 614.1 L94.2 614.6 L95.8 615.5 L97.5 615.5 L99.1 616.4 L100.8 616.4 L102.3 616.4 L103.9 616.8 L105.4 617.0 L106.9 616.9 L108.5 616.6 L110.0 616.8 L111.6 616.8 L113.1 617.3 L114.6 617.0 L116.2 617.0 L117.7 617.5 L119.2 617.1 L120.8 617.2 L122.3 617.6 L123.9 617.8 L125.4 617.4 L126.9 617.3 L128.5 617.3 L130.0 617.9 L130.0 618.2 L29.4 618.2 Z" fill="#b0b0b0" stroke="none" filter="url(#nz)"/>
<path d="M29.6 599.4 L31.5 599.4 L31.5 601.4 L32.7 601.4 L32.7 603.4 L33.8 603.4 L33.8 603.5 L35.0 603.5 L35.0 604.1 L36.1 604.1 L36.1 606.6 L37.3 606.6 L37.3 607.6 L38.3 607.6 L38.3 606.6 L39.4 606.6 L39.4 607.0 L40.4 607.0 L40.4 606.3 L41.4 606.3 L41.4 605.7 L42.5 605.7 L42.5 604.8 L43.5 604.8 L43.5 606.0 L45.3 606.0 L45.3 602.1 L46.8 602.1 L46.8 596.1 L48.2 596.1 L48.2 591.2 L49.7 591.2 L49.7 582.8 L51.1 582.8 L51.1 576.5 L52.2 576.5 L52.2 571.3 L53.4 571.3 L53.4 567.7 L55.2 567.7 L55.2 557.3 L56.3 557.3 L56.3 552.7 L57.5 552.7 L57.5 548.6 L58.6 548.6 L58.6 546.1 L59.8 546.1 L59.8 545.1 L61.0 545.1 L61.0 545.8 L62.0 545.8 L62.0 542.9 L63.0 542.9 L63.0 544.2 L64.0 544.2 L64.0 544.3 L65.0 544.3 L65.0 544.4 L66.0 544.4 L66.0 545.8 L67.0 545.8 L67.0 546.3 L68.0 546.3 L68.0 545.9 L69.0 545.9 L69.0 546.4 L70.5 546.4 L70.5 550.1 L71.9 550.1 L71.9 555.8 L73.3 555.8 L73.3 557.4 L74.8 557.4 L74.8 560.8 L76.2 560.8 L76.2 567.2 L77.7 567.2 L77.7 570.4 L79.2 570.4 L79.2 573.6 L80.6 573.6 L80.6 577.5 L82.0 577.5 L82.0 583.8 L83.5 583.8 L83.5 588.6 L84.9 588.6 L84.9 594.4 L86.3 594.4 L86.3 598.8 L87.6 598.8 L87.6 601.8 L88.9 601.8 L88.9 602.7 L90.2 602.7 L90.2 604.2 L91.3 604.2 L91.3 604.3 L92.4 604.3 L92.4 605.7 L93.6 605.7 L93.6 607.1 L94.7 607.1 L94.7 607.5 L95.8 607.5 L95.8 607.6 L96.9 607.6 L96.9 608.4 L98.0 608.4 L98.0 609.1 L99.0 609.1 L99.0 609.6 L100.1 609.6 L100.1 610.1 L101.2 610.1 L101.2 610.7 L102.2 610.7 L102.2 610.7 L103.3 610.7 L103.3 609.7 L104.4 609.7 L104.4 610.8 L105.4 610.8 L105.4 610.4 L106.5 610.4 L106.5 610.8 L107.5 610.8 L107.5 610.8 L108.6 610.8 L108.6 611.6 L109.6 611.6 L109.6 611.1 L110.6 611.1 L110.6 611.1 L111.7 611.1 L111.7 611.2 L112.7 611.2 L112.7 611.2 L113.8 611.2 L113.8 612.7 L114.8 612.7 L114.8 612.9 L115.8 612.9 L115.8 612.7 L116.9 612.7 L116.9 612.8 L117.9 612.8 L117.9 614.0 L118.9 614.0 L118.9 613.9 L120.0 613.9 L120.0 613.5 L121.0 613.5 L121.0 614.4 L122.1 614.4 L122.1 614.8 L123.2 614.8 L123.2 615.7 L124.3 615.7 L124.3 614.9 L125.5 614.9 L125.5 615.3 L126.6 615.3 L126.6 616.2 L127.7 616.2 L127.7 616.8 L128.8 616.8 L128.8 617.3 L129.8 617.3 L129.8 616.4 L130.8 616.4 L130.8 616.3 L131.9 616.3 L131.9 616.1 L132.9 616.1 L132.9 616.2 L133.9 616.2 L133.9 617.2 L134.9 617.2 L134.9 617.3 L135.9 617.3 L135.9 617.7 L136.9 617.7 L136.9 617.4 L138.0 617.4 L138.0 617.8 L139.0 617.8 L139.0 617.6 L140.0 617.6 L140.0 617.3" fill="none" stroke="#000" stroke-width="1.1" stroke-dasharray="1.2 1.6"/>
<path d="M29.6 595.8 L30.8 595.8 L30.8 596.4 L32.0 596.4 L32.0 594.9 L33.1 594.9 L33.1 596.1 L34.3 596.1 L34.3 597.2 L35.5 597.2 L35.5 597.4 L36.6 597.4 L36.6 598.2 L37.8 598.2 L37.8 599.2 L38.9 599.2 L38.9 600.6 L40.1 600.6 L40.1 602.2 L41.2 602.2 L41.2 604.3 L42.4 604.3 L42.4 605.5 L43.5 605.5 L43.5 605.8 L44.7 605.8 L44.7 606.1 L45.9 606.1 L45.9 607.3 L47.0 607.3 L47.0 608.5 L48.2 608.5 L48.2 608.6 L49.4 608.6 L49.4 609.2 L50.5 609.2 L50.5 609.6 L51.7 609.6 L51.7 611.2 L52.9 611.2 L52.9 611.9 L54.0 611.9 L54.0 611.9 L55.2 611.9 L55.2 612.4 L56.4 612.4 L56.4 612.7 L57.5 612.7 L57.5 613.0 L58.7 613.0 L58.7 613.3 L59.8 613.3 L59.8 612.7 L61.0 612.7 L61.0 612.5 L62.1 612.5 L62.1 613.2 L63.3 613.2 L63.3 612.7 L64.4 612.7 L64.4 612.2 L65.6 612.2 L65.6 611.8 L66.7 611.8 L66.7 612.3 L67.9 612.3 L67.9 611.4 L69.1 611.4 L69.1 609.6 L70.2 609.6 L70.2 607.4 L71.4 607.4 L71.4 605.5 L72.6 605.5 L72.6 602.8 L73.7 602.8 L73.7 600.0 L74.8 600.0 L74.8 594.3 L76.0 594.3 L76.0 588.8 L77.2 588.8 L77.2 585.1 L78.4 585.1 L78.4 579.6 L80.1 579.6 L80.1 569.2 L81.3 569.2 L81.3 562.1 L81.8 562.1 L81.8 550.0 L82.5 550.0 L82.5 544.6 L84.0 544.6 L84.0 541.7 L85.4 541.7 L85.4 541.0 L87.3 541.0 L87.3 534.3 L88.8 534.3 L88.8 532.4 L90.2 532.4 L90.2 530.7 L91.5 530.7 L91.5 533.6 L92.7 533.6 L92.7 535.9 L94.0 535.9 L94.0 544.9 L95.5 544.9 L95.5 546.6 L96.9 546.6 L96.9 551.3 L98.3 551.3 L98.3 555.6 L99.8 555.6 L99.8 560.6 L101.2 560.6 L101.2 564.5 L102.7 564.5 L102.7 569.3 L103.7 569.3 L103.7 573.3 L104.8 573.3 L104.8 578.0 L105.8 578.0 L105.8 579.8 L107.1 579.8 L107.1 584.0 L108.3 584.0 L108.3 588.7 L109.6 588.7 L109.6 593.3 L110.8 593.3 L110.8 593.8 L112.0 593.8 L112.0 595.0 L113.2 595.0 L113.2 598.2 L114.4 598.2 L114.4 600.8 L115.6 600.8 L115.6 601.3 L116.8 601.3 L116.8 601.4 L118.0 601.4 L118.0 603.7 L119.2 603.7 L119.2 604.4 L120.4 604.4 L120.4 606.3 L121.6 606.3 L121.6 607.3 L122.8 607.3 L122.8 608.8 L124.0 608.8 L124.0 609.0 L125.2 609.0 L125.2 610.7 L126.4 610.7 L126.4 611.4 L127.6 611.4 L127.6 612.6 L128.8 612.6 L128.8 614.3 L130.0 614.3 L130.0 615.2 L131.2 615.2 L131.2 615.1 L132.5 615.1 L132.5 615.5 L133.7 615.5 L133.7 616.2 L134.8 616.2 L134.8 616.6 L135.9 616.6 L135.9 616.7 L137.1 616.7 L137.1 616.7 L138.2 616.7 L138.2 616.9 L139.3 616.9 L139.3 617.5 L140.4 617.5 L140.4 617.9 L141.4 617.9 L141.4 617.5 L142.5 617.5 L142.5 617.7 L143.5 617.7 L143.5 617.9 L144.5 617.9 L144.5 617.4 L145.5 617.4 L145.5 617.9 L146.6 617.9 L146.6 617.5 L147.6 617.5 L147.6 617.7 L148.6 617.7 L148.6 617.8 L149.6 617.8 L149.6 617.9 L150.7 617.9 L150.7 617.6 L151.7 617.6 L151.7 617.6 L152.7 617.6 L152.7 617.8 L153.7 617.8 L153.7 617.7 L154.8 617.7 L154.8 617.9 L155.8 617.9 L155.8 617.8 L156.8 617.8 L156.8 617.7 L157.8 617.7 L157.8 617.4 L158.8 617.4 L158.8 617.7 L159.9 617.7 L159.9 617.7 L160.9 617.7 L160.9 617.5 L161.9 617.5 L161.9 617.9 L162.9 617.9 L162.9 617.9 L164.0 617.9 L164.0 617.9 L165.0 617.9 L165.0 617.6" fill="none" stroke="#4a4a4a" stroke-width="1.90" stroke-linejoin="miter"/>
<path d="M29.6 604.4 L30.6 604.4 L30.6 604.1 L31.6 604.1 L31.6 604.3 L32.6 604.3 L32.6 605.3 L33.6 605.3 L33.6 605.4 L34.6 605.4 L34.6 606.4 L35.6 606.4 L35.6 607.2 L36.6 607.2 L36.6 607.0 L37.8 607.0 L37.8 608.8 L38.9 608.8 L38.9 609.1 L40.1 609.1 L40.1 610.9 L41.1 610.9 L41.1 611.1 L42.1 611.1 L42.1 610.5 L43.1 610.5 L43.1 609.3 L44.1 609.3 L44.1 609.4 L45.1 609.4 L45.1 608.3 L46.2 608.3 L46.2 608.4 L47.2 608.4 L47.2 606.3 L48.2 606.3 L48.2 606.3 L49.7 606.3 L49.7 603.6 L51.1 603.6 L51.1 599.9 L52.5 599.9 L52.5 596.0 L54.0 596.0 L54.0 590.4 L55.2 590.4 L55.2 589.2 L56.3 589.2 L56.3 585.8 L57.5 585.8 L57.5 584.2 L58.6 584.2 L58.6 580.5 L59.8 580.5 L59.8 574.2 L61.0 574.2 L61.0 571.2 L62.1 571.2 L62.1 568.2 L63.2 568.2 L63.2 561.4 L64.4 561.4 L64.4 557.2 L65.8 557.2 L65.8 556.4 L67.3 556.4 L67.3 552.4 L68.5 552.4 L68.5 557.4 L69.7 557.4 L69.7 558.9 L71.2 558.9 L71.2 561.5 L72.6 561.5 L72.6 560.7 L73.8 560.7 L73.8 562.9 L74.9 562.9 L74.9 566.4 L76.1 566.4 L76.1 567.5 L77.2 567.5 L77.2 569.9 L78.9 569.9 L78.9 574.0 L80.3 574.0 L80.3 578.8 L81.8 578.8 L81.8 583.1 L83.2 583.1 L83.2 588.3 L84.7 588.3 L84.7 593.6 L85.8 593.6 L85.8 598.9 L87.0 598.9 L87.0 602.6 L88.1 602.6 L88.1 605.1 L89.1 605.1 L89.1 605.8 L90.2 605.8 L90.2 608.4 L91.4 608.4 L91.4 608.1 L92.5 608.1 L92.5 609.2 L93.7 609.2 L93.7 610.3 L94.8 610.3 L94.8 610.8 L96.0 610.8 L96.0 612.2 L97.1 612.2 L97.1 612.3 L98.2 612.3 L98.2 612.6 L99.2 612.6 L99.2 613.4 L100.3 613.4 L100.3 612.7 L101.4 612.7 L101.4 613.9 L102.4 613.9 L102.4 614.0 L103.5 614.0 L103.5 613.9 L104.6 613.9 L104.6 614.7 L105.6 614.7 L105.6 614.2 L106.7 614.2 L106.7 615.1 L107.7 615.1 L107.7 615.0 L108.7 615.0 L108.7 614.7 L109.7 614.7 L109.7 615.2 L110.8 615.2 L110.8 615.1 L111.8 615.1 L111.8 614.7 L112.8 614.7 L112.8 615.4 L113.8 615.4 L113.8 614.9 L114.9 614.9 L114.9 615.7 L115.9 615.7 L115.9 615.4 L116.9 615.4 L116.9 615.9 L117.9 615.9 L117.9 616.6 L119.0 616.6 L119.0 616.5 L120.0 616.5 L120.0 616.6 L121.0 616.6 L121.0 616.2 L122.0 616.2 L122.0 615.7 L123.0 615.7 L123.0 615.6 L124.0 615.6 L124.0 615.7 L125.0 615.7 L125.0 616.4 L126.0 616.4 L126.0 616.5 L127.0 616.5 L127.0 616.7 L128.0 616.7 L128.0 617.2 L129.0 617.2 L129.0 616.6 L130.0 616.6 L130.0 616.5 L131.0 616.5 L131.0 617.0 L132.0 617.0 L132.0 616.6 L133.0 616.6 L133.0 616.4 L134.0 616.4 L134.0 616.7 L135.0 616.7 L135.0 616.7 L136.0 616.7 L136.0 616.9 L137.0 616.9 L137.0 616.9 L138.0 616.9 L138.0 617.2 L139.0 617.2 L139.0 617.4 L140.0 617.4 L140.0 617.1 L141.0 617.1 L141.0 617.4 L142.0 617.4 L142.0 617.4 L143.0 617.4 L143.0 617.1 L144.0 617.1 L144.0 617.7 L145.0 617.7 L145.0 617.3 L146.0 617.3 L146.0 617.1 L147.0 617.1 L147.0 616.9 L148.0 616.9 L148.0 617.4 L149.0 617.4 L149.0 617.8 L150.0 617.8 L150.0 617.9 L151.0 617.9 L151.0 617.7 L152.0 617.7 L152.0 617.4 L153.0 617.4 L153.0 617.1 L154.0 617.1 L154.0 617.5 L155.0 617.5 L155.0 617.6 L156.0 617.6 L156.0 617.5 L157.0 617.5 L157.0 617.7 L158.0 617.7 L158.0 617.7 L159.0 617.7 L159.0 617.9 L160.0 617.9 L160.0 617.9 L161.0 617.9 L161.0 617.7 L162.0 617.7 L162.0 617.9 L163.0 617.9 L163.0 617.5 L164.0 617.5 L164.0 617.7 L165.0 617.7 L165.0 617.7" fill="none" stroke="#000" stroke-width="0.95"/>
<path d="M29.3 472.6 L227.3 472.6 L227.3 618.2" fill="none" stroke="#222" stroke-width="1"/>
<line x1="29.3" y1="472.2" x2="29.3" y2="618.8" stroke="#000" stroke-width="1.1"/>
<line x1="28.7" y1="618.2" x2="227.7" y2="618.2" stroke="#000" stroke-width="1.5"/>
<line x1="24.5" y1="472.6" x2="29.3" y2="472.6" stroke="#000" stroke-width="1"/>
<line x1="26.5" y1="478.4" x2="29.3" y2="478.4" stroke="#000" stroke-width="1"/>
<line x1="26.5" y1="484.2" x2="29.3" y2="484.2" stroke="#000" stroke-width="1"/>
<line x1="26.5" y1="490.1" x2="29.3" y2="490.1" stroke="#000" stroke-width="1"/>
<line x1="26.5" y1="495.9" x2="29.3" y2="495.9" stroke="#000" stroke-width="1"/>
<line x1="24.5" y1="501.7" x2="29.3" y2="501.7" stroke="#000" stroke-width="1"/>
<line x1="26.5" y1="507.5" x2="29.3" y2="507.5" stroke="#000" stroke-width="1"/>
<line x1="26.5" y1="513.4" x2="29.3" y2="513.4" stroke="#000" stroke-width="1"/>
<line x1="26.5" y1="519.2" x2="29.3" y2="519.2" stroke="#000" stroke-width="1"/>
<line x1="26.5" y1="525.0" x2="29.3" y2="525.0" stroke="#000" stroke-width="1"/>
<line x1="24.5" y1="530.8" x2="29.3" y2="530.8" stroke="#000" stroke-width="1"/>
<line x1="26.5" y1="536.7" x2="29.3" y2="536.7" stroke="#000" stroke-width="1"/>
<line x1="26.5" y1="542.5" x2="29.3" y2="542.5" stroke="#000" stroke-width="1"/>
<line x1="26.5" y1="548.3" x2="29.3" y2="548.3" stroke="#000" stroke-width="1"/>
<line x1="26.5" y1="554.1" x2="29.3" y2="554.1" stroke="#000" stroke-width="1"/>
<line x1="24.5" y1="560.0" x2="29.3" y2="560.0" stroke="#000" stroke-width="1"/>
<line x1="26.5" y1="565.8" x2="29.3" y2="565.8" stroke="#000" stroke-width="1"/>
<line x1="26.5" y1="571.6" x2="29.3" y2="571.6" stroke="#000" stroke-width="1"/>
<line x1="26.5" y1="577.4" x2="29.3" y2="577.4" stroke="#000" stroke-width="1"/>
<line x1="26.5" y1="583.3" x2="29.3" y2="583.3" stroke="#000" stroke-width="1"/>
<line x1="24.5" y1="589.1" x2="29.3" y2="589.1" stroke="#000" stroke-width="1"/>
<line x1="26.5" y1="594.9" x2="29.3" y2="594.9" stroke="#000" stroke-width="1"/>
<line x1="26.5" y1="600.7" x2="29.3" y2="600.7" stroke="#000" stroke-width="1"/>
<line x1="26.5" y1="606.6" x2="29.3" y2="606.6" stroke="#000" stroke-width="1"/>
<line x1="26.5" y1="612.4" x2="29.3" y2="612.4" stroke="#000" stroke-width="1"/>
<line x1="24.5" y1="618.2" x2="29.3" y2="618.2" stroke="#000" stroke-width="1"/>
<text transform="translate(21.2 470.0) rotate(-90)" text-anchor="middle" style="font-family:'Liberation Sans',sans-serif;font-size:8.5px" fill="#222">150</text>
<text transform="translate(21.2 499.1) rotate(-90)" text-anchor="middle" style="font-family:'Liberation Sans',sans-serif;font-size:8.5px" fill="#222">120</text>
<text transform="translate(21.2 529.3) rotate(-90)" text-anchor="middle" style="font-family:'Liberation Sans',sans-serif;font-size:8.5px" fill="#222">90</text>
<text transform="translate(21.2 558.5) rotate(-90)" text-anchor="middle" style="font-family:'Liberation Sans',sans-serif;font-size:8.5px" fill="#222">60</text>
<text transform="translate(21.2 587.6) rotate(-90)" text-anchor="middle" style="font-family:'Liberation Sans',sans-serif;font-size:8.5px" fill="#222">30</text>
<text transform="translate(21.2 616.2) rotate(-90)" text-anchor="middle" style="font-family:'Liberation Sans',sans-serif;font-size:8.5px" fill="#222">0</text>
<text transform="translate(10.9 546.2) rotate(-90)" text-anchor="middle" style="font-family:'Liberation Sans',sans-serif;font-size:8.8px" fill="#222">Counts</text>
<line x1="29.3" y1="618.2" x2="29.3" y2="622.7" stroke="#000" stroke-width="1"/>
<line x1="48.9" y1="618.2" x2="48.9" y2="621.0" stroke="#000" stroke-width="1"/>
<line x1="60.3" y1="618.2" x2="60.3" y2="621.0" stroke="#000" stroke-width="1"/>
<line x1="68.5" y1="618.2" x2="68.5" y2="621.0" stroke="#000" stroke-width="1"/>
<line x1="74.8" y1="618.2" x2="74.8" y2="621.0" stroke="#000" stroke-width="1"/>
<line x1="79.9" y1="618.2" x2="79.9" y2="621.0" stroke="#000" stroke-width="1"/>
<line x1="84.3" y1="618.2" x2="84.3" y2="621.0" stroke="#000" stroke-width="1"/>
<line x1="88.0" y1="618.2" x2="88.0" y2="621.0" stroke="#000" stroke-width="1"/>
<line x1="91.4" y1="618.2" x2="91.4" y2="621.0" stroke="#000" stroke-width="1"/>
<line x1="94.3" y1="618.2" x2="94.3" y2="622.7" stroke="#000" stroke-width="1"/>
<line x1="113.9" y1="618.2" x2="113.9" y2="621.0" stroke="#000" stroke-width="1"/>
<line x1="125.4" y1="618.2" x2="125.4" y2="621.0" stroke="#000" stroke-width="1"/>
<line x1="133.5" y1="618.2" x2="133.5" y2="621.0" stroke="#000" stroke-width="1"/>
<line x1="139.8" y1="618.2" x2="139.8" y2="621.0" stroke="#000" stroke-width="1"/>
<line x1="144.9" y1="618.2" x2="144.9" y2="621.0" stroke="#000" stroke-width="1"/>
<line x1="149.3" y1="618.2" x2="149.3" y2="621.0" stroke="#000" stroke-width="1"/>
<line x1="153.1" y1="618.2" x2="153.1" y2="621.0" stroke="#000" stroke-width="1"/>
<line x1="156.4" y1="618.2" x2="156.4" y2="621.0" stroke="#000" stroke-width="1"/>
<line x1="159.4" y1="618.2" x2="159.4" y2="622.7" stroke="#000" stroke-width="1"/>
<line x1="178.9" y1="618.2" x2="178.9" y2="621.0" stroke="#000" stroke-width="1"/>
<line x1="190.4" y1="618.2" x2="190.4" y2="621.0" stroke="#000" stroke-width="1"/>
<line x1="198.5" y1="618.2" x2="198.5" y2="621.0" stroke="#000" stroke-width="1"/>
<line x1="204.8" y1="618.2" x2="204.8" y2="621.0" stroke="#000" stroke-width="1"/>
<line x1="210.0" y1="618.2" x2="210.0" y2="621.0" stroke="#000" stroke-width="1"/>
<line x1="214.3" y1="618.2" x2="214.3" y2="621.0" stroke="#000" stroke-width="1"/>
<line x1="218.1" y1="618.2" x2="218.1" y2="621.0" stroke="#000" stroke-width="1"/>
<line x1="221.4" y1="618.2" x2="221.4" y2="621.0" stroke="#000" stroke-width="1"/>
<line x1="224.4" y1="618.2" x2="224.4" y2="622.7" stroke="#000" stroke-width="1"/>
<text x="95.4" y="633.3" text-anchor="end" style="font-family:'Liberation Sans',sans-serif;font-size:8.5px" fill="#222">10</text>
<text x="96.0" y="628.7" text-anchor="start" style="font-family:'Liberation Sans',sans-serif;font-size:8.5px" fill="#222">1</text>
<text x="160.0" y="633.3" text-anchor="end" style="font-family:'Liberation Sans',sans-serif;font-size:8.5px" fill="#222">10</text>
<text x="160.6" y="628.7" text-anchor="start" style="font-family:'Liberation Sans',sans-serif;font-size:8.5px" fill="#222">2</text>
<text x="227.0" y="633.3" text-anchor="end" style="font-family:'Liberation Sans',sans-serif;font-size:8.5px" fill="#222">10</text>
<text x="227.6" y="628.7" text-anchor="start" style="font-family:'Liberation Sans',sans-serif;font-size:8.5px" fill="#222">3</text>
<text x="127.5" y="642.2" text-anchor="middle" style="font-family:'Liberation Sans',sans-serif;font-size:8.9px" fill="#222">FL2-H</text>
<text x="211.3" y="495.0" text-anchor="middle" style="font-family:'Liberation Sans',sans-serif;font-size:17px;font-weight:bold" fill="#000">C</text>
<path d="M308.3 195.8 L309.3 194.2 L309.9 190.1 L310.6 181.5 L311.7 171.2 L313.2 160.4 L314.4 147.9 L315.7 135.9 L316.8 124.9 L317.4 113.0 L318.0 101.7 L319.1 90.6 L320.0 77.8 L321.5 66.0 L323.5 61.3 L325.5 65.2 L327.3 78.5 L328.1 90.5 L329.0 102.2 L329.9 112.4 L330.7 125.4 L331.9 137.2 L333.1 148.4 L334.2 160.3 L336.0 171.5 L337.7 182.8 L340.0 189.5 L342.0 191.9 L344.0 194.0 L345.5 194.7 L347.0 195.6 L348.5 196.2 L350.0 196.8 L351.7 196.9 L353.3 196.7 L355.0 196.9 L356.7 197.0 L358.3 197.2 L360.0 197.2 L360.0 197.5 L308.3 197.5 Z" fill="#b0b0b0" stroke="none" filter="url(#nz)"/>
<path d="M328.0 196.7 L329.0 196.7 L329.0 196.8 L330.0 196.8 L330.0 197.1 L331.0 197.1 L331.0 195.9 L332.0 195.9 L332.0 196.3 L333.1 196.3 L333.1 194.9 L334.1 194.9 L334.1 194.4 L335.1 194.4 L335.1 194.0 L336.1 194.0 L336.1 194.6 L337.1 194.6 L337.1 195.1 L338.3 195.1 L338.3 194.2 L339.4 194.2 L339.4 192.4 L340.6 192.4 L340.6 192.4 L341.7 192.4 L341.7 190.5 L342.9 190.5 L342.9 188.9 L344.1 188.9 L344.1 189.3 L345.2 189.3 L345.2 188.0 L346.4 188.0 L346.4 187.0 L347.5 187.0 L347.5 185.9 L348.7 185.9 L348.7 185.8 L349.9 185.8 L349.9 183.4 L351.0 183.4 L351.0 183.0 L352.2 183.0 L352.2 182.0 L353.4 182.0 L353.4 181.6 L354.5 181.6 L354.5 179.5 L355.7 179.5 L355.7 179.1 L356.9 179.1 L356.9 178.5 L358.0 178.5 L358.0 177.0 L359.1 177.0 L359.1 175.8 L360.3 175.8 L360.3 176.7 L361.3 176.7 L361.3 174.6 L362.3 174.6 L362.3 176.7 L363.3 176.7 L363.3 174.3 L364.3 174.3 L364.3 172.4 L365.3 172.4 L365.3 171.6 L366.3 171.6 L366.3 174.4 L367.3 174.4 L367.3 172.9 L368.4 172.9 L368.4 171.0 L369.6 171.0 L369.6 169.4 L370.8 169.4 L370.8 168.4 L371.9 168.4 L371.9 170.4 L373.1 170.4 L373.1 170.2 L374.2 170.2 L374.2 169.7 L375.4 169.7 L375.4 169.1 L376.6 169.1 L376.6 165.1 L377.7 165.1 L377.7 165.4 L378.9 165.4 L378.9 164.1 L380.0 164.1 L380.0 165.2 L381.1 165.2 L381.1 166.2 L382.2 166.2 L382.2 167.0 L383.2 167.0 L383.2 163.6 L384.3 163.6 L384.3 165.9 L385.4 165.9 L385.4 167.2 L386.5 167.2 L386.5 167.3 L387.6 167.3 L387.6 163.1 L388.8 163.1 L388.8 161.4 L389.9 161.4 L389.9 159.9 L391.0 159.9 L391.0 158.5 L392.1 158.5 L392.1 161.6 L393.2 161.6 L393.2 163.2 L394.3 163.2 L394.3 163.1 L395.5 163.1 L395.5 164.2 L396.6 164.2 L396.6 163.8 L397.7 163.8 L397.7 162.0 L398.8 162.0 L398.8 160.4 L399.9 160.4 L399.9 160.2 L401.0 160.2 L401.0 163.5 L402.0 163.5 L402.0 162.7 L403.1 162.7 L403.1 163.2 L404.2 163.2 L404.2 164.2 L405.2 164.2 L405.2 163.6 L406.2 163.6 L406.2 165.0 L407.3 165.0 L407.3 166.4 L408.3 166.4 L408.3 169.5 L409.3 169.5 L409.3 170.1 L410.3 170.1 L410.3 170.7 L411.3 170.7 L411.3 174.4 L412.3 174.4 L412.3 174.7 L413.4 174.7 L413.4 177.2 L414.5 177.2 L414.5 178.2 L415.5 178.2 L415.5 177.2 L416.6 177.2 L416.6 179.0 L417.7 179.0 L417.7 180.7 L418.8 180.7 L418.8 183.0 L419.8 183.0 L419.8 183.2 L420.9 183.2 L420.9 185.1 L421.9 185.1 L421.9 186.0 L423.0 186.0 L423.0 186.0 L424.1 186.0 L424.1 188.3 L425.2 188.3 L425.2 187.6 L426.3 187.6 L426.3 189.8 L427.4 189.8 L427.4 189.5 L428.5 189.5 L428.5 189.5 L429.6 189.5 L429.6 190.0 L430.7 190.0 L430.7 191.8 L431.8 191.8 L431.8 193.3 L432.9 193.3 L432.9 192.0 L434.0 192.0 L434.0 192.7 L435.0 192.7 L435.0 193.0 L436.0 193.0 L436.0 193.9 L437.0 193.9 L437.0 193.0 L438.0 193.0 L438.0 193.4 L439.0 193.4 L439.0 193.4 L440.0 193.4 L440.0 194.4 L441.0 194.4 L441.0 193.8 L442.0 193.8 L442.0 195.0 L443.0 195.0 L443.0 194.3 L444.0 194.3 L444.0 194.0 L445.0 194.0 L445.0 194.8 L446.0 194.8 L446.0 194.9 L447.0 194.9 L447.0 194.3 L448.0 194.3 L448.0 195.1 L449.0 195.1 L449.0 194.5 L450.0 194.5 L450.0 195.6 L451.0 195.6 L451.0 196.0 L452.0 196.0 L452.0 196.4 L453.0 196.4 L453.0 196.4 L454.0 196.4 L454.0 196.0 L455.0 196.0 L455.0 196.0 L456.0 196.0 L456.0 196.1 L457.0 196.1 L457.0 196.9 L458.0 196.9 L458.0 196.2 L459.0 196.2 L459.0 197.1 L460.0 197.1 L460.0 196.4 L461.0 196.4 L461.0 196.4 L462.0 196.4 L462.0 196.5 L463.0 196.5 L463.0 197.2 L464.0 197.2 L464.0 197.2 L465.0 197.2 L465.0 197.2 L466.0 197.2 L466.0 197.2 L467.0 197.2 L467.0 197.2 L468.0 197.2 L468.0 197.2 L469.0 197.2 L469.0 197.2 L470.0 197.2 L470.0 197.2 L471.0 197.2 L471.0 197.2 L472.0 197.2 L472.0 197.2 L473.0 197.2 L473.0 197.2 L474.0 197.2 L474.0 197.2 L475.0 197.2 L475.0 197.2 L476.0 197.2 L476.0 197.2 L477.0 197.2 L477.0 197.2" fill="none" stroke="#000" stroke-width="1.1" stroke-dasharray="1 2.3"/>
<path d="M308.3 197.2 L309.4 197.2 L309.4 196.8 L310.4 196.8 L310.4 196.8 L311.5 196.8 L311.5 197.2 L312.6 197.2 L312.6 197.2 L313.6 197.2 L313.6 196.7 L314.7 196.7 L314.7 196.8 L315.8 196.8 L315.8 197.2 L316.8 197.2 L316.8 196.9 L317.9 196.9 L317.9 196.6 L318.9 196.6 L318.9 196.6 L320.0 196.6 L320.0 197.0 L321.1 197.0 L321.1 197.2 L322.1 197.2 L322.1 196.8 L323.2 196.8 L323.2 196.6 L324.2 196.6 L324.2 196.3 L325.2 196.3 L325.2 196.1 L326.2 196.1 L326.2 196.1 L327.2 196.1 L327.2 195.5 L328.2 195.5 L328.2 195.4 L329.2 195.4 L329.2 195.0 L330.2 195.0 L330.2 195.8 L331.4 195.8 L331.4 195.1 L332.5 195.1 L332.5 193.2 L333.6 193.2 L333.6 193.5 L334.8 193.5 L334.8 191.4 L335.9 191.4 L335.9 190.3 L337.1 190.3 L337.1 190.5 L338.2 190.5 L338.2 189.6 L339.4 189.6 L339.4 188.4 L340.6 188.4 L340.6 186.1 L341.7 186.1 L341.7 183.4 L342.9 183.4 L342.9 182.7 L344.1 182.7 L344.1 180.2 L345.2 180.2 L345.2 178.8 L346.4 178.8 L346.4 178.1 L347.6 178.1 L347.6 176.3 L348.7 176.3 L348.7 176.3 L349.9 176.3 L349.9 177.2 L351.0 177.2 L351.0 177.4 L352.2 177.4 L352.2 176.6 L353.4 176.6 L353.4 176.6 L354.5 176.6 L354.5 175.8 L355.7 175.8 L355.7 174.7 L356.9 174.7 L356.9 176.0 L358.0 176.0 L358.0 176.1 L359.2 176.1 L359.2 177.5 L360.4 177.5 L360.4 178.2 L361.5 178.2 L361.5 176.7 L362.6 176.7 L362.6 176.4 L363.8 176.4 L363.8 176.7 L365.0 176.7 L365.0 175.6 L366.1 175.6 L366.1 174.3 L367.3 174.3 L367.3 175.4 L368.4 175.4 L368.4 176.3 L369.6 176.3 L369.6 176.2 L370.8 176.2 L370.8 175.7 L371.9 175.7 L371.9 175.9 L373.1 175.9 L373.1 175.2 L374.2 175.2 L374.2 174.5 L375.4 174.5 L375.4 172.8 L376.5 172.8 L376.5 171.0 L377.7 171.0 L377.7 170.9 L378.9 170.9 L378.9 168.3 L380.0 168.3 L380.0 168.4 L381.2 168.4 L381.2 169.6 L382.4 169.6 L382.4 169.6 L383.5 169.6 L383.5 169.1 L384.7 169.1 L384.7 167.1 L385.9 167.1 L385.9 166.6 L387.0 166.6 L387.0 166.4 L388.2 166.4 L388.2 166.7 L389.5 166.7 L389.5 165.6 L390.8 165.6 L390.8 165.8 L392.1 165.8 L392.1 166.7 L393.2 166.7 L393.2 164.1 L394.3 164.1 L394.3 164.9 L395.5 164.9 L395.5 165.8 L396.6 165.8 L396.6 164.4 L397.7 164.4 L397.7 164.2 L398.8 164.2 L398.8 166.2 L399.9 166.2 L399.9 163.4 L401.0 163.4 L401.0 164.6 L402.0 164.6 L402.0 163.7 L403.1 163.7 L403.1 166.1 L404.2 166.1 L404.2 168.1 L405.2 168.1 L405.2 167.7 L406.2 167.7 L406.2 166.2 L407.3 166.2 L407.3 167.8 L408.3 167.8 L408.3 168.8 L409.3 168.8 L409.3 170.6 L410.3 170.6 L410.3 171.1 L411.3 171.1 L411.3 172.4 L412.3 172.4 L412.3 174.3 L413.3 174.3 L413.3 174.8 L414.3 174.8 L414.3 175.4 L415.3 175.4 L415.3 178.3 L416.3 178.3 L416.3 177.7 L417.3 177.7 L417.3 179.7 L418.4 179.7 L418.4 180.4 L419.4 180.4 L419.4 182.5 L420.4 182.5 L420.4 182.2 L421.4 182.2 L421.4 185.0 L422.4 185.0 L422.4 184.9 L423.4 184.9 L423.4 184.6 L424.4 184.6 L424.4 185.5 L425.4 185.5 L425.4 186.8 L426.4 186.8 L426.4 186.9 L427.5 186.9 L427.5 188.4 L428.5 188.4 L428.5 189.6 L429.6 189.6 L429.6 190.7 L430.7 190.7 L430.7 190.7 L431.7 190.7 L431.7 190.7 L432.8 190.7 L432.8 190.8 L433.9 190.8 L433.9 192.1 L434.9 192.1 L434.9 193.2 L435.9 193.2 L435.9 192.9 L436.9 192.9 L436.9 192.3 L437.9 192.3 L437.9 193.3 L438.9 193.3 L438.9 193.1 L439.9 193.1 L439.9 192.7 L440.9 192.7 L440.9 192.5 L441.9 192.5 L441.9 193.8 L443.0 193.8 L443.0 194.4 L444.1 194.4 L444.1 194.4 L445.1 194.4 L445.1 194.2 L446.2 194.2 L446.2 194.3 L447.3 194.3 L447.3 193.9 L448.4 193.9 L448.4 195.0 L449.5 195.0 L449.5 194.5 L450.5 194.5 L450.5 194.8 L451.6 194.8 L451.6 195.3 L452.7 195.3 L452.7 195.6 L453.8 195.6 L453.8 195.2 L454.9 195.2 L454.9 194.9 L455.9 194.9 L455.9 195.2 L457.0 195.2 L457.0 194.7 L458.1 194.7 L458.1 195.7 L459.2 195.7 L459.2 195.5 L460.3 195.5 L460.3 196.2 L461.3 196.2 L461.3 195.7 L462.4 195.7 L462.4 195.7 L463.5 195.7 L463.5 195.7 L464.5 195.7 L464.5 195.9 L465.6 195.9 L465.6 195.8 L466.6 195.8 L466.6 195.6 L467.6 195.6 L467.6 196.4 L468.7 196.4 L468.7 196.3 L469.7 196.3 L469.7 196.3 L470.7 196.3 L470.7 196.4 L471.7 196.4 L471.7 196.8 L472.8 196.8 L472.8 196.9 L473.8 196.9 L473.8 197.2 L474.8 197.2 L474.8 197.2 L475.9 197.2 L475.9 197.2 L476.9 197.2 L476.9 197.2 L477.9 197.2 L477.9 197.2 L479.0 197.2 L479.0 197.2 L480.0 197.2 L480.0 197.2 L481.1 197.2 L481.1 197.2 L482.1 197.2 L482.1 197.2 L483.2 197.2 L483.2 197.2 L484.2 197.2 L484.2 197.2 L485.3 197.2 L485.3 197.2 L486.4 197.2 L486.4 197.2 L487.4 197.2 L487.4 197.2 L488.4 197.2 L488.4 197.2 L489.5 197.2 L489.5 197.2 L490.6 197.2 L490.6 197.2 L491.6 197.2 L491.6 197.2 L492.6 197.2 L492.6 197.2 L493.7 197.2 L493.7 197.2 L494.8 197.2 L494.8 197.2 L495.8 197.2 L495.8 197.2 L496.8 197.2 L496.8 197.2 L497.8 197.2 L497.8 197.2 L498.8 197.2 L498.8 197.2 L499.9 197.2 L499.9 197.2 L500.9 197.2 L500.9 197.2 L501.9 197.2 L501.9 197.2 L502.9 197.2 L502.9 197.2 L503.9 197.2 L503.9 197.2 L504.9 197.2 L504.9 197.2 L505.9 197.2 L505.9 197.2 L507.0 197.2 L507.0 197.2 L508.0 197.2 L508.0 197.2 L509.0 197.2 L509.0 197.2 L510.0 197.2 L510.0 197.2" fill="none" stroke="#000" stroke-width="0.95"/>
<path d="M308.3 50.3 L512.3 51.3 L512.3 198.5" fill="none" stroke="#222" stroke-width="1"/>
<line x1="308.3" y1="49.9" x2="308.3" y2="198.1" stroke="#000" stroke-width="1.3"/>
<line x1="307.7" y1="197.5" x2="512.7" y2="198.5" stroke="#000" stroke-width="1.5"/>
<line x1="303.5" y1="50.3" x2="308.3" y2="50.3" stroke="#000" stroke-width="1"/>
<line x1="305.5" y1="56.2" x2="308.3" y2="56.2" stroke="#000" stroke-width="1"/>
<line x1="305.5" y1="62.1" x2="308.3" y2="62.1" stroke="#000" stroke-width="1"/>
<line x1="305.5" y1="68.0" x2="308.3" y2="68.0" stroke="#000" stroke-width="1"/>
<line x1="305.5" y1="73.9" x2="308.3" y2="73.9" stroke="#000" stroke-width="1"/>
<line x1="303.5" y1="79.7" x2="308.3" y2="79.7" stroke="#000" stroke-width="1"/>
<line x1="305.5" y1="85.6" x2="308.3" y2="85.6" stroke="#000" stroke-width="1"/>
<line x1="305.5" y1="91.5" x2="308.3" y2="91.5" stroke="#000" stroke-width="1"/>
<line x1="305.5" y1="97.4" x2="308.3" y2="97.4" stroke="#000" stroke-width="1"/>
<line x1="305.5" y1="103.3" x2="308.3" y2="103.3" stroke="#000" stroke-width="1"/>
<line x1="303.5" y1="109.2" x2="308.3" y2="109.2" stroke="#000" stroke-width="1"/>
<line x1="305.5" y1="115.1" x2="308.3" y2="115.1" stroke="#000" stroke-width="1"/>
<line x1="305.5" y1="121.0" x2="308.3" y2="121.0" stroke="#000" stroke-width="1"/>
<line x1="305.5" y1="126.8" x2="308.3" y2="126.8" stroke="#000" stroke-width="1"/>
<line x1="305.5" y1="132.7" x2="308.3" y2="132.7" stroke="#000" stroke-width="1"/>
<line x1="303.5" y1="138.6" x2="308.3" y2="138.6" stroke="#000" stroke-width="1"/>
<line x1="305.5" y1="144.5" x2="308.3" y2="144.5" stroke="#000" stroke-width="1"/>
<line x1="305.5" y1="150.4" x2="308.3" y2="150.4" stroke="#000" stroke-width="1"/>
<line x1="305.5" y1="156.3" x2="308.3" y2="156.3" stroke="#000" stroke-width="1"/>
<line x1="305.5" y1="162.2" x2="308.3" y2="162.2" stroke="#000" stroke-width="1"/>
<line x1="303.5" y1="168.1" x2="308.3" y2="168.1" stroke="#000" stroke-width="1"/>
<line x1="305.5" y1="173.9" x2="308.3" y2="173.9" stroke="#000" stroke-width="1"/>
<line x1="305.5" y1="179.8" x2="308.3" y2="179.8" stroke="#000" stroke-width="1"/>
<line x1="305.5" y1="185.7" x2="308.3" y2="185.7" stroke="#000" stroke-width="1"/>
<line x1="305.5" y1="191.6" x2="308.3" y2="191.6" stroke="#000" stroke-width="1"/>
<line x1="303.5" y1="197.5" x2="308.3" y2="197.5" stroke="#000" stroke-width="1"/>
<text transform="translate(300.8 47.7) rotate(-90)" text-anchor="middle" style="font-family:'Liberation Sans',sans-serif;font-size:8.5px" fill="#222">300</text>
<text transform="translate(300.8 77.1) rotate(-90)" text-anchor="middle" style="font-family:'Liberation Sans',sans-serif;font-size:8.5px" fill="#222">240</text>
<text transform="translate(300.8 106.6) rotate(-90)" text-anchor="middle" style="font-family:'Liberation Sans',sans-serif;font-size:8.5px" fill="#222">180</text>
<text transform="translate(300.8 136.0) rotate(-90)" text-anchor="middle" style="font-family:'Liberation Sans',sans-serif;font-size:8.5px" fill="#222">120</text>
<text transform="translate(300.8 166.6) rotate(-90)" text-anchor="middle" style="font-family:'Liberation Sans',sans-serif;font-size:8.5px" fill="#222">60</text>
<text transform="translate(300.8 195.5) rotate(-90)" text-anchor="middle" style="font-family:'Liberation Sans',sans-serif;font-size:8.5px" fill="#222">0</text>
<text transform="translate(290.5 123.6) rotate(-90)" text-anchor="middle" style="font-family:'Liberation Sans',sans-serif;font-size:8.8px" fill="#222">Counts</text>
<line x1="308.3" y1="197.5" x2="308.3" y2="202.0" stroke="#000" stroke-width="1"/>
<line x1="328.5" y1="197.6" x2="328.5" y2="200.4" stroke="#000" stroke-width="1"/>
<line x1="340.3" y1="197.7" x2="340.3" y2="200.5" stroke="#000" stroke-width="1"/>
<line x1="348.7" y1="197.7" x2="348.7" y2="200.5" stroke="#000" stroke-width="1"/>
<line x1="355.2" y1="197.7" x2="355.2" y2="200.5" stroke="#000" stroke-width="1"/>
<line x1="360.5" y1="197.8" x2="360.5" y2="200.6" stroke="#000" stroke-width="1"/>
<line x1="365.0" y1="197.8" x2="365.0" y2="200.6" stroke="#000" stroke-width="1"/>
<line x1="368.9" y1="197.8" x2="368.9" y2="200.6" stroke="#000" stroke-width="1"/>
<line x1="372.3" y1="197.8" x2="372.3" y2="200.6" stroke="#000" stroke-width="1"/>
<line x1="375.4" y1="197.8" x2="375.4" y2="202.3" stroke="#000" stroke-width="1"/>
<line x1="395.6" y1="197.9" x2="395.6" y2="200.7" stroke="#000" stroke-width="1"/>
<line x1="407.4" y1="198.0" x2="407.4" y2="200.8" stroke="#000" stroke-width="1"/>
<line x1="415.8" y1="198.0" x2="415.8" y2="200.8" stroke="#000" stroke-width="1"/>
<line x1="422.3" y1="198.1" x2="422.3" y2="200.9" stroke="#000" stroke-width="1"/>
<line x1="427.6" y1="198.1" x2="427.6" y2="200.9" stroke="#000" stroke-width="1"/>
<line x1="432.1" y1="198.1" x2="432.1" y2="200.9" stroke="#000" stroke-width="1"/>
<line x1="436.0" y1="198.1" x2="436.0" y2="200.9" stroke="#000" stroke-width="1"/>
<line x1="439.4" y1="198.1" x2="439.4" y2="200.9" stroke="#000" stroke-width="1"/>
<line x1="442.5" y1="198.2" x2="442.5" y2="202.7" stroke="#000" stroke-width="1"/>
<line x1="462.7" y1="198.3" x2="462.7" y2="201.1" stroke="#000" stroke-width="1"/>
<line x1="474.5" y1="198.3" x2="474.5" y2="201.1" stroke="#000" stroke-width="1"/>
<line x1="482.9" y1="198.4" x2="482.9" y2="201.2" stroke="#000" stroke-width="1"/>
<line x1="489.4" y1="198.4" x2="489.4" y2="201.2" stroke="#000" stroke-width="1"/>
<line x1="494.7" y1="198.4" x2="494.7" y2="201.2" stroke="#000" stroke-width="1"/>
<line x1="499.2" y1="198.4" x2="499.2" y2="201.2" stroke="#000" stroke-width="1"/>
<line x1="503.1" y1="198.5" x2="503.1" y2="201.3" stroke="#000" stroke-width="1"/>
<line x1="506.5" y1="198.5" x2="506.5" y2="201.3" stroke="#000" stroke-width="1"/>
<line x1="509.6" y1="198.5" x2="509.6" y2="203.0" stroke="#000" stroke-width="1"/>
<text x="311.6" y="213.3" text-anchor="end" style="font-family:'Liberation Sans',sans-serif;font-size:8.5px" fill="#222">10</text>
<text x="312.2" y="208.7" text-anchor="start" style="font-family:'Liberation Sans',sans-serif;font-size:8.5px" fill="#222">0</text>
<text x="377.4" y="213.6" text-anchor="end" style="font-family:'Liberation Sans',sans-serif;font-size:8.5px" fill="#222">10</text>
<text x="378.0" y="209.0" text-anchor="start" style="font-family:'Liberation Sans',sans-serif;font-size:8.5px" fill="#222">1</text>
<text x="444.5" y="214.0" text-anchor="end" style="font-family:'Liberation Sans',sans-serif;font-size:8.5px" fill="#222">10</text>
<text x="445.1" y="209.4" text-anchor="start" style="font-family:'Liberation Sans',sans-serif;font-size:8.5px" fill="#222">2</text>
<text x="511.6" y="214.3" text-anchor="end" style="font-family:'Liberation Sans',sans-serif;font-size:8.5px" fill="#222">10</text>
<text x="512.2" y="209.7" text-anchor="start" style="font-family:'Liberation Sans',sans-serif;font-size:8.5px" fill="#222">3</text>
<text x="409.7" y="222.9" text-anchor="middle" style="font-family:'Liberation Sans',sans-serif;font-size:8.9px" fill="#222">FL2-H</text>
<text x="493.9" y="74.0" text-anchor="middle" style="font-family:'Liberation Sans',sans-serif;font-size:17px;font-weight:bold" fill="#000">D</text>
<path d="M308.2 409.7 L308.7 407.6 L309.3 404.5 L310.2 396.2 L311.4 384.2 L312.5 372.3 L313.7 360.4 L314.8 349.2 L316.0 337.0 L316.8 325.5 L317.4 313.4 L318.6 302.3 L319.5 291.0 L320.6 279.6 L322.6 276.4 L324.9 278.8 L326.5 291.6 L327.3 302.9 L328.4 314.6 L329.2 326.4 L330.4 338.6 L331.6 349.7 L332.7 361.1 L333.9 373.5 L335.4 384.1 L337.1 396.0 L340.0 404.2 L341.8 405.5 L343.5 407.5 L345.1 408.1 L346.8 408.8 L348.4 408.9 L350.0 409.6 L351.5 409.6 L353.0 409.6 L354.5 410.0 L356.0 409.6 L357.5 410.0 L359.0 410.2 L360.5 410.1 L362.0 410.3 L362.0 410.6 L308.2 410.6 Z" fill="#b0b0b0" stroke="none" filter="url(#nz)"/>
<path d="M327.8 406.2 L329.0 406.2 L329.0 404.8 L330.1 404.8 L330.1 403.4 L331.3 403.4 L331.3 402.6 L332.5 402.6 L332.5 399.8 L333.7 399.8 L333.7 397.9 L334.8 397.9 L334.8 396.0 L336.0 396.0 L336.0 394.5 L337.1 394.5 L337.1 395.1 L338.3 395.1 L338.3 393.1 L339.5 393.1 L339.5 393.8 L340.6 393.8 L340.6 392.2 L341.8 392.2 L341.8 392.0 L342.9 392.0 L342.9 390.8 L344.1 390.8 L344.1 391.1 L345.2 391.1 L345.2 392.9 L346.4 392.9 L346.4 392.3 L347.4 392.3 L347.4 392.4 L348.4 392.4 L348.4 390.4 L349.4 390.4 L349.4 389.3 L350.4 389.3 L350.4 388.5 L351.4 388.5 L351.4 389.1 L352.4 389.1 L352.4 389.4 L353.4 389.4 L353.4 389.9 L354.5 389.9 L354.5 387.2 L355.7 387.2 L355.7 388.6 L356.9 388.6 L356.9 389.8 L358.0 389.8 L358.0 388.8 L359.1 388.8 L359.1 386.3 L360.3 386.3 L360.3 386.1 L361.3 386.1 L361.3 384.5 L362.3 384.5 L362.3 384.4 L363.3 384.4 L363.3 387.1 L364.3 387.1 L364.3 386.9 L365.3 386.9 L365.3 386.9 L366.3 386.9 L366.3 387.2 L367.3 387.2 L367.3 387.7 L368.4 387.7 L368.4 385.4 L369.6 385.4 L369.6 383.5 L370.8 383.5 L370.8 382.0 L371.9 382.0 L371.9 380.8 L373.1 380.8 L373.1 379.3 L374.2 379.3 L374.2 378.4 L375.4 378.4 L375.4 375.1 L376.6 375.1 L376.6 375.2 L377.8 375.2 L377.8 374.7 L378.9 374.7 L378.9 376.0 L380.1 376.0 L380.1 373.3 L381.2 373.3 L381.2 372.5 L382.2 372.5 L382.2 371.5 L383.3 371.5 L383.3 374.7 L384.3 374.7 L384.3 376.8 L385.4 376.8 L385.4 376.6 L386.5 376.6 L386.5 375.3 L387.6 375.3 L387.6 377.1 L388.6 377.1 L388.6 377.9 L389.7 377.9 L389.7 377.3 L390.8 377.3 L390.8 375.7 L391.9 375.7 L391.9 375.9 L393.0 375.9 L393.0 377.0 L394.0 377.0 L394.0 377.4 L395.1 377.4 L395.1 378.6 L396.2 378.6 L396.2 380.5 L397.3 380.5 L397.3 383.4 L398.3 383.4 L398.3 381.4 L399.4 381.4 L399.4 383.4 L400.4 383.4 L400.4 382.6 L401.5 382.6 L401.5 383.2 L402.6 383.2 L402.6 386.7 L403.7 386.7 L403.7 387.7 L404.7 387.7 L404.7 390.0 L405.8 390.0 L405.8 389.5 L406.9 389.5 L406.9 388.1 L408.0 388.1 L408.0 389.4 L409.1 389.4 L409.1 391.2 L410.1 391.2 L410.1 393.7 L411.2 393.7 L411.2 395.4 L412.3 395.4 L412.3 394.8 L413.4 394.8 L413.4 394.7 L414.5 394.7 L414.5 394.1 L415.5 394.1 L415.5 396.1 L416.6 396.1 L416.6 396.0 L417.7 396.0 L417.7 396.2 L418.8 396.2 L418.8 396.3 L419.9 396.3 L419.9 396.7 L420.9 396.7 L420.9 399.3 L422.0 399.3 L422.0 399.2 L423.1 399.2 L423.1 402.0 L424.2 402.0 L424.2 401.0 L425.3 401.0 L425.3 403.0 L426.3 403.0 L426.3 402.2 L427.4 402.2 L427.4 401.9 L428.5 401.9 L428.5 403.8 L429.6 403.8 L429.6 403.5 L430.6 403.5 L430.6 404.7 L431.7 404.7 L431.7 404.0 L432.8 404.0 L432.8 403.5 L433.9 403.5 L433.9 405.1 L434.9 405.1 L434.9 405.8 L436.0 405.8 L436.0 406.6 L437.1 406.6 L437.1 406.7 L438.1 406.7 L438.1 405.5 L439.2 405.5 L439.2 406.3 L440.2 406.3 L440.2 406.8 L441.3 406.8 L441.3 406.6 L442.3 406.6 L442.3 407.6 L443.3 407.6 L443.3 406.7 L444.3 406.7 L444.3 407.9 L445.4 407.9 L445.4 408.0 L446.4 408.0 L446.4 406.7 L447.4 406.7 L447.4 406.2 L448.5 406.2 L448.5 407.3 L449.5 407.3 L449.5 408.2 L450.5 408.2 L450.5 407.3 L451.5 407.3 L451.5 407.4 L452.6 407.4 L452.6 408.3 L453.6 408.3 L453.6 407.8 L454.6 407.8 L454.6 408.9 L455.7 408.9 L455.7 408.8 L456.7 408.8 L456.7 408.1 L457.7 408.1 L457.7 408.4 L458.7 408.4 L458.7 409.0 L459.8 409.0 L459.8 409.1 L460.8 409.1 L460.8 409.6 L461.8 409.6 L461.8 409.1 L462.8 409.1 L462.8 409.8 L463.8 409.8 L463.8 409.6 L464.8 409.6 L464.8 409.9 L465.9 409.9 L465.9 410.1 L466.9 410.1 L466.9 409.9 L467.9 409.9 L467.9 409.8 L468.9 409.8 L468.9 410.3 L469.9 410.3 L469.9 410.3 L470.9 410.3 L470.9 410.3 L471.9 410.3 L471.9 410.3 L472.9 410.3 L472.9 410.3 L473.9 410.3 L473.9 410.1 L474.9 410.1 L474.9 410.3 L476.0 410.3 L476.0 410.3 L477.0 410.3 L477.0 410.3 L478.0 410.3 L478.0 410.3 L479.0 410.3 L479.0 410.3 L480.0 410.3 L480.0 410.3" fill="none" stroke="#000" stroke-width="1.1" stroke-dasharray="1 2.3"/>
<path d="M328.0 410.3 L329.1 410.3 L329.1 410.1 L330.1 410.1 L330.1 409.8 L331.1 409.8 L331.1 409.7 L332.2 409.7 L332.2 410.0 L333.2 410.0 L333.2 409.6 L334.3 409.6 L334.3 409.7 L335.4 409.7 L335.4 409.6 L336.4 409.6 L336.4 409.8 L337.5 409.8 L337.5 409.8 L338.5 409.8 L338.5 409.2 L339.6 409.2 L339.6 408.6 L340.6 408.6 L340.6 408.5 L341.8 408.5 L341.8 408.3 L342.9 408.3 L342.9 408.1 L344.1 408.1 L344.1 408.0 L345.2 408.0 L345.2 407.8 L346.4 407.8 L346.4 406.0 L347.5 406.0 L347.5 405.8 L348.7 405.8 L348.7 405.1 L349.9 405.1 L349.9 404.5 L351.0 404.5 L351.0 403.3 L352.2 403.3 L352.2 401.9 L353.4 401.9 L353.4 401.6 L354.5 401.6 L354.5 401.0 L355.7 401.0 L355.7 400.2 L356.9 400.2 L356.9 399.9 L358.0 399.9 L358.0 398.4 L359.2 398.4 L359.2 396.9 L360.4 396.9 L360.4 396.7 L361.5 396.7 L361.5 396.7 L362.6 396.7 L362.6 395.4 L363.8 395.4 L363.8 395.4 L364.9 395.4 L364.9 395.3 L366.1 395.3 L366.1 393.5 L367.2 393.5 L367.2 393.0 L368.4 393.0 L368.4 392.5 L369.6 392.5 L369.6 391.6 L370.8 391.6 L370.8 390.4 L371.9 390.4 L371.9 389.6 L373.1 389.6 L373.1 390.0 L374.2 390.0 L374.2 389.6 L375.4 389.6 L375.4 388.3 L376.6 388.3 L376.6 386.4 L377.7 386.4 L377.7 386.6 L378.9 386.6 L378.9 385.4 L380.0 385.4 L380.0 382.7 L381.1 382.7 L381.1 382.3 L382.2 382.3 L382.2 382.4 L383.2 382.4 L383.2 381.9 L384.3 381.9 L384.3 380.5 L385.4 380.5 L385.4 379.2 L386.5 379.2 L386.5 378.8 L387.6 378.8 L387.6 377.3 L388.6 377.3 L388.6 376.4 L389.7 376.4 L389.7 375.6 L390.8 375.6 L390.8 376.2 L391.9 376.2 L391.9 375.1 L393.0 375.1 L393.0 374.7 L394.0 374.7 L394.0 373.6 L395.1 373.6 L395.1 373.0 L396.2 373.0 L396.2 371.3 L397.3 371.3 L397.3 370.0 L398.3 370.0 L398.3 371.5 L399.4 371.5 L399.4 370.2 L400.4 370.2 L400.4 368.6 L401.5 368.6 L401.5 368.9 L402.6 368.9 L402.6 370.1 L403.7 370.1 L403.7 369.2 L404.7 369.2 L404.7 370.1 L405.8 370.1 L405.8 370.1 L406.9 370.1 L406.9 370.8 L408.0 370.8 L408.0 369.7 L409.1 369.7 L409.1 369.4 L410.1 369.4 L410.1 371.8 L411.2 371.8 L411.2 372.7 L412.3 372.7 L412.3 372.2 L413.3 372.2 L413.3 373.2 L414.3 373.2 L414.3 373.6 L415.3 373.6 L415.3 375.7 L416.3 375.7 L416.3 376.3 L417.3 376.3 L417.3 379.1 L418.4 379.1 L418.4 380.8 L419.4 380.8 L419.4 382.6 L420.4 382.6 L420.4 384.6 L421.4 384.6 L421.4 384.9 L422.4 384.9 L422.4 385.4 L423.4 385.4 L423.4 387.0 L424.4 387.0 L424.4 388.6 L425.4 388.6 L425.4 390.1 L426.4 390.1 L426.4 391.6 L427.5 391.6 L427.5 394.2 L428.5 394.2 L428.5 396.9 L429.5 396.9 L429.5 398.0 L430.5 398.0 L430.5 400.0 L431.5 400.0 L431.5 401.6 L432.5 401.6 L432.5 401.7 L433.6 401.7 L433.6 402.5 L434.7 402.5 L434.7 402.8 L435.7 402.8 L435.7 402.8 L436.8 402.8 L436.8 404.4 L437.9 404.4 L437.9 404.3 L438.9 404.3 L438.9 404.8 L440.0 404.8 L440.0 405.2 L441.0 405.2 L441.0 405.9 L442.1 405.9 L442.1 406.0 L443.1 406.0 L443.1 405.8 L444.2 405.8 L444.2 405.9 L445.2 405.9 L445.2 405.8 L446.3 405.8 L446.3 406.8 L447.3 406.8 L447.3 407.5 L448.3 407.5 L448.3 406.9 L449.4 406.9 L449.4 406.5 L450.4 406.5 L450.4 406.7 L451.5 406.7 L451.5 407.0 L452.5 407.0 L452.5 407.8 L453.5 407.8 L453.5 408.3 L454.6 408.3 L454.6 408.5 L455.6 408.5 L455.6 407.8 L456.6 407.8 L456.6 408.4 L457.7 408.4 L457.7 408.7 L458.7 408.7 L458.7 408.9 L459.8 408.9 L459.8 409.4 L460.8 409.4 L460.8 408.7 L461.8 408.7 L461.8 408.6 L462.8 408.6 L462.8 409.2 L463.8 409.2 L463.8 409.7 L464.8 409.7 L464.8 409.7 L465.8 409.7 L465.8 409.4 L466.8 409.4 L466.8 409.6 L467.8 409.6 L467.8 409.9 L468.9 409.9 L468.9 409.5 L469.9 409.5 L469.9 409.5 L470.9 409.5 L470.9 409.6 L471.9 409.6 L471.9 409.5 L472.9 409.5 L472.9 409.9 L473.9 409.9 L473.9 409.8 L474.9 409.8 L474.9 409.9 L475.9 409.9 L475.9 410.0 L476.9 410.0 L476.9 410.3 L477.9 410.3 L477.9 410.2 L478.9 410.2 L478.9 410.3 L479.9 410.3 L479.9 410.3 L480.9 410.3 L480.9 410.3 L481.9 410.3 L481.9 410.3 L482.9 410.3 L482.9 410.3 L483.9 410.3 L483.9 410.3 L484.9 410.3 L484.9 410.3 L485.9 410.3 L485.9 410.3 L486.9 410.3 L486.9 410.3 L487.9 410.3 L487.9 410.3 L488.9 410.3 L488.9 410.3 L489.9 410.3 L489.9 410.3 L490.9 410.3 L490.9 410.3 L491.9 410.3 L491.9 410.3 L492.9 410.3 L492.9 410.3 L494.0 410.3 L494.0 410.3 L495.0 410.3 L495.0 410.3 L496.0 410.3 L496.0 410.3 L497.0 410.3 L497.0 410.3 L498.0 410.3 L498.0 410.3 L499.0 410.3 L499.0 410.3 L500.0 410.3 L500.0 410.3 L501.0 410.3 L501.0 410.3 L502.0 410.3 L502.0 410.3 L503.0 410.3 L503.0 410.3 L504.0 410.3 L504.0 410.3 L505.0 410.3 L505.0 410.3 L506.0 410.3 L506.0 410.3 L507.0 410.3 L507.0 410.3 L508.0 410.3 L508.0 410.3 L509.0 410.3 L509.0 410.3 L510.0 410.3 L510.0 410.3" fill="none" stroke="#666" stroke-width="1.55" stroke-linejoin="miter"/>
<path d="M308.0 409.4 L309.0 409.4 L309.0 409.6 L310.1 409.6 L310.1 409.5 L311.1 409.5 L311.1 410.1 L312.1 410.1 L312.1 409.5 L313.1 409.5 L313.1 410.2 L314.2 410.2 L314.2 409.5 L315.2 409.5 L315.2 410.1 L316.2 410.1 L316.2 410.1 L317.3 410.1 L317.3 409.6 L318.3 409.6 L318.3 409.7 L319.3 409.7 L319.3 409.5 L320.4 409.5 L320.4 409.4 L321.4 409.4 L321.4 409.3 L322.4 409.3 L322.4 409.4 L323.4 409.4 L323.4 410.2 L324.5 410.2 L324.5 410.3 L325.5 410.3 L325.5 410.3 L326.7 410.3 L326.7 409.0 L327.9 409.0 L327.9 408.1 L329.0 408.1 L329.0 408.3 L330.2 408.3 L330.2 406.6 L331.4 406.6 L331.4 406.8 L332.5 406.8 L332.5 405.7 L333.6 405.7 L333.6 406.3 L334.8 406.3 L334.8 404.2 L336.0 404.2 L336.0 404.1 L337.1 404.1 L337.1 402.4 L338.3 402.4 L338.3 400.4 L339.5 400.4 L339.5 398.1 L340.6 398.1 L340.6 398.5 L341.8 398.5 L341.8 396.9 L342.9 396.9 L342.9 394.7 L344.1 394.7 L344.1 393.9 L345.2 393.9 L345.2 394.4 L346.4 394.4 L346.4 392.1 L347.5 392.1 L347.5 391.8 L348.7 391.8 L348.7 389.8 L349.9 389.8 L349.9 389.0 L351.0 389.0 L351.0 390.6 L352.2 390.6 L352.2 390.9 L353.4 390.9 L353.4 389.1 L354.5 389.1 L354.5 387.6 L355.7 387.6 L355.7 386.7 L356.8 386.7 L356.8 388.0 L358.0 388.0 L358.0 389.5 L359.2 389.5 L359.2 390.1 L360.3 390.1 L360.3 388.8 L361.5 388.8 L361.5 389.2 L362.6 389.2 L362.6 389.2 L363.8 389.2 L363.8 389.6 L364.9 389.6 L364.9 388.8 L366.1 388.8 L366.1 386.8 L367.3 386.8 L367.3 386.0 L368.4 386.0 L368.4 388.2 L369.6 388.2 L369.6 388.3 L370.8 388.3 L370.8 388.9 L371.9 388.9 L371.9 386.5 L373.1 386.5 L373.1 388.0 L374.2 388.0 L374.2 386.3 L375.4 386.3 L375.4 386.9 L376.6 386.9 L376.6 386.8 L377.7 386.8 L377.7 384.8 L378.9 384.8 L378.9 381.6 L380.0 381.6 L380.0 383.2 L381.2 383.2 L381.2 381.7 L382.4 381.7 L382.4 382.2 L383.4 382.2 L383.4 379.3 L384.4 379.3 L384.4 377.1 L385.4 377.1 L385.4 378.4 L386.5 378.4 L386.5 377.1 L387.6 377.1 L387.6 375.5 L388.6 375.5 L388.6 375.6 L389.7 375.6 L389.7 376.4 L390.8 376.4 L390.8 374.1 L391.9 374.1 L391.9 375.5 L393.0 375.5 L393.0 376.0 L394.0 376.0 L394.0 376.6 L395.1 376.6 L395.1 375.2 L396.2 375.2 L396.2 377.2 L397.3 377.2 L397.3 378.7 L398.3 378.7 L398.3 379.7 L399.4 379.7 L399.4 378.0 L400.4 378.0 L400.4 379.0 L401.5 379.0 L401.5 378.1 L402.6 378.1 L402.6 379.7 L403.7 379.7 L403.7 377.7 L404.7 377.7 L404.7 380.4 L405.8 380.4 L405.8 382.2 L406.9 382.2 L406.9 381.3 L408.0 381.3 L408.0 381.6 L409.1 381.6 L409.1 382.3 L410.1 382.3 L410.1 383.0 L411.2 383.0 L411.2 381.8 L412.3 381.8 L412.3 385.3 L413.4 385.3 L413.4 385.1 L414.5 385.1 L414.5 385.6 L415.5 385.6 L415.5 386.3 L416.6 386.3 L416.6 387.9 L417.7 387.9 L417.7 391.4 L418.8 391.4 L418.8 391.0 L419.9 391.0 L419.9 391.8 L420.9 391.8 L420.9 394.9 L422.0 394.9 L422.0 395.4 L423.1 395.4 L423.1 395.9 L424.2 395.9 L424.2 398.2 L425.3 398.2 L425.3 399.7 L426.3 399.7 L426.3 400.8 L427.4 400.8 L427.4 402.2 L428.5 402.2 L428.5 402.0 L429.6 402.0 L429.6 403.6 L430.7 403.6 L430.7 404.2 L431.7 404.2 L431.7 403.1 L432.8 403.1 L432.8 403.0 L433.9 403.0 L433.9 404.0 L435.0 404.0 L435.0 404.5 L436.0 404.5 L436.0 404.4 L437.1 404.4 L437.1 404.1 L438.2 404.1 L438.2 404.7 L439.2 404.7 L439.2 404.6 L440.3 404.6 L440.3 405.5 L441.4 405.5 L441.4 406.6 L442.5 406.6 L442.5 405.8 L443.5 405.8 L443.5 406.4 L444.6 406.4 L444.6 407.1 L445.6 407.1 L445.6 406.4 L446.6 406.4 L446.6 407.4 L447.6 407.4 L447.6 408.1 L448.7 408.1 L448.7 407.5 L449.7 407.5 L449.7 407.4 L450.7 407.4 L450.7 408.2 L451.7 408.2 L451.7 408.0 L452.7 408.0 L452.7 407.9 L453.7 407.9 L453.7 408.7 L454.7 408.7 L454.7 409.0 L455.7 409.0 L455.7 408.4 L456.8 408.4 L456.8 408.1 L457.8 408.1 L457.8 408.2 L458.8 408.2 L458.8 408.5 L459.8 408.5 L459.8 409.5 L460.8 409.5 L460.8 409.8 L461.8 409.8 L461.8 410.1 L462.8 410.1 L462.8 410.1 L463.8 410.1 L463.8 410.2 L464.8 410.2 L464.8 409.3 L465.8 409.3 L465.8 409.5 L466.8 409.5 L466.8 410.2 L467.8 410.2 L467.8 410.3 L468.9 410.3 L468.9 410.0 L469.9 410.0 L469.9 409.9 L470.9 409.9 L470.9 410.2 L471.9 410.2 L471.9 410.1 L472.9 410.1 L472.9 410.3 L473.9 410.3 L473.9 410.0 L474.9 410.0 L474.9 410.3 L475.9 410.3 L475.9 410.3 L476.9 410.3 L476.9 410.3 L477.9 410.3 L477.9 410.3 L478.9 410.3 L478.9 410.3 L479.9 410.3 L479.9 410.3 L480.9 410.3 L480.9 410.3 L481.9 410.3 L481.9 410.3 L482.9 410.3 L482.9 410.3 L483.9 410.3 L483.9 410.3 L484.9 410.3 L484.9 410.3 L485.9 410.3 L485.9 410.3 L486.9 410.3 L486.9 410.3 L487.9 410.3 L487.9 410.3 L488.9 410.3 L488.9 410.3 L489.9 410.3 L489.9 410.3 L490.9 410.3 L490.9 410.3 L491.9 410.3 L491.9 410.3 L492.9 410.3 L492.9 410.3 L494.0 410.3 L494.0 410.3 L495.0 410.3 L495.0 410.3 L496.0 410.3 L496.0 410.3 L497.0 410.3 L497.0 410.3 L498.0 410.3 L498.0 410.3 L499.0 410.3 L499.0 410.3 L500.0 410.3 L500.0 410.3 L501.0 410.3 L501.0 410.3 L502.0 410.3 L502.0 410.3 L503.0 410.3 L503.0 410.3 L504.0 410.3 L504.0 410.3 L505.0 410.3 L505.0 410.3 L506.0 410.3 L506.0 410.3 L507.0 410.3 L507.0 410.3 L508.0 410.3 L508.0 410.3 L509.0 410.3 L509.0 410.3 L510.0 410.3 L510.0 410.3" fill="none" stroke="#000" stroke-width="0.95"/>
<path d="M307.9 264.0 L512.0 265.0 L512.0 411.6" fill="none" stroke="#222" stroke-width="1"/>
<line x1="307.9" y1="263.6" x2="307.9" y2="411.2" stroke="#000" stroke-width="1.3"/>
<line x1="307.3" y1="410.6" x2="512.4" y2="411.6" stroke="#000" stroke-width="1.5"/>
<line x1="303.1" y1="264.0" x2="307.9" y2="264.0" stroke="#000" stroke-width="1"/>
<line x1="305.1" y1="269.9" x2="307.9" y2="269.9" stroke="#000" stroke-width="1"/>
<line x1="305.1" y1="275.7" x2="307.9" y2="275.7" stroke="#000" stroke-width="1"/>
<line x1="305.1" y1="281.6" x2="307.9" y2="281.6" stroke="#000" stroke-width="1"/>
<line x1="305.1" y1="287.5" x2="307.9" y2="287.5" stroke="#000" stroke-width="1"/>
<line x1="303.1" y1="293.3" x2="307.9" y2="293.3" stroke="#000" stroke-width="1"/>
<line x1="305.1" y1="299.2" x2="307.9" y2="299.2" stroke="#000" stroke-width="1"/>
<line x1="305.1" y1="305.0" x2="307.9" y2="305.0" stroke="#000" stroke-width="1"/>
<line x1="305.1" y1="310.9" x2="307.9" y2="310.9" stroke="#000" stroke-width="1"/>
<line x1="305.1" y1="316.8" x2="307.9" y2="316.8" stroke="#000" stroke-width="1"/>
<line x1="303.1" y1="322.6" x2="307.9" y2="322.6" stroke="#000" stroke-width="1"/>
<line x1="305.1" y1="328.5" x2="307.9" y2="328.5" stroke="#000" stroke-width="1"/>
<line x1="305.1" y1="334.4" x2="307.9" y2="334.4" stroke="#000" stroke-width="1"/>
<line x1="305.1" y1="340.2" x2="307.9" y2="340.2" stroke="#000" stroke-width="1"/>
<line x1="305.1" y1="346.1" x2="307.9" y2="346.1" stroke="#000" stroke-width="1"/>
<line x1="303.1" y1="352.0" x2="307.9" y2="352.0" stroke="#000" stroke-width="1"/>
<line x1="305.1" y1="357.8" x2="307.9" y2="357.8" stroke="#000" stroke-width="1"/>
<line x1="305.1" y1="363.7" x2="307.9" y2="363.7" stroke="#000" stroke-width="1"/>
<line x1="305.1" y1="369.6" x2="307.9" y2="369.6" stroke="#000" stroke-width="1"/>
<line x1="305.1" y1="375.4" x2="307.9" y2="375.4" stroke="#000" stroke-width="1"/>
<line x1="303.1" y1="381.3" x2="307.9" y2="381.3" stroke="#000" stroke-width="1"/>
<line x1="305.1" y1="387.1" x2="307.9" y2="387.1" stroke="#000" stroke-width="1"/>
<line x1="305.1" y1="393.0" x2="307.9" y2="393.0" stroke="#000" stroke-width="1"/>
<line x1="305.1" y1="398.9" x2="307.9" y2="398.9" stroke="#000" stroke-width="1"/>
<line x1="305.1" y1="404.7" x2="307.9" y2="404.7" stroke="#000" stroke-width="1"/>
<line x1="303.1" y1="410.6" x2="307.9" y2="410.6" stroke="#000" stroke-width="1"/>
<text transform="translate(300.2 261.4) rotate(-90)" text-anchor="middle" style="font-family:'Liberation Sans',sans-serif;font-size:8.5px" fill="#222">300</text>
<text transform="translate(300.2 290.7) rotate(-90)" text-anchor="middle" style="font-family:'Liberation Sans',sans-serif;font-size:8.5px" fill="#222">240</text>
<text transform="translate(300.2 320.0) rotate(-90)" text-anchor="middle" style="font-family:'Liberation Sans',sans-serif;font-size:8.5px" fill="#222">180</text>
<text transform="translate(300.2 349.4) rotate(-90)" text-anchor="middle" style="font-family:'Liberation Sans',sans-serif;font-size:8.5px" fill="#222">120</text>
<text transform="translate(300.2 379.8) rotate(-90)" text-anchor="middle" style="font-family:'Liberation Sans',sans-serif;font-size:8.5px" fill="#222">60</text>
<text transform="translate(300.2 408.6) rotate(-90)" text-anchor="middle" style="font-family:'Liberation Sans',sans-serif;font-size:8.5px" fill="#222">0</text>
<text transform="translate(289.9 337.7) rotate(-90)" text-anchor="middle" style="font-family:'Liberation Sans',sans-serif;font-size:8.8px" fill="#222">Counts</text>
<line x1="307.9" y1="410.6" x2="307.9" y2="415.1" stroke="#000" stroke-width="1"/>
<line x1="328.1" y1="410.7" x2="328.1" y2="413.5" stroke="#000" stroke-width="1"/>
<line x1="339.9" y1="410.8" x2="339.9" y2="413.6" stroke="#000" stroke-width="1"/>
<line x1="348.3" y1="410.8" x2="348.3" y2="413.6" stroke="#000" stroke-width="1"/>
<line x1="354.8" y1="410.8" x2="354.8" y2="413.6" stroke="#000" stroke-width="1"/>
<line x1="360.1" y1="410.9" x2="360.1" y2="413.7" stroke="#000" stroke-width="1"/>
<line x1="364.5" y1="410.9" x2="364.5" y2="413.7" stroke="#000" stroke-width="1"/>
<line x1="368.4" y1="410.9" x2="368.4" y2="413.7" stroke="#000" stroke-width="1"/>
<line x1="371.9" y1="410.9" x2="371.9" y2="413.7" stroke="#000" stroke-width="1"/>
<line x1="374.9" y1="410.9" x2="374.9" y2="415.4" stroke="#000" stroke-width="1"/>
<line x1="395.1" y1="411.0" x2="395.1" y2="413.8" stroke="#000" stroke-width="1"/>
<line x1="406.9" y1="411.1" x2="406.9" y2="413.9" stroke="#000" stroke-width="1"/>
<line x1="415.3" y1="411.1" x2="415.3" y2="413.9" stroke="#000" stroke-width="1"/>
<line x1="421.8" y1="411.2" x2="421.8" y2="414.0" stroke="#000" stroke-width="1"/>
<line x1="427.1" y1="411.2" x2="427.1" y2="414.0" stroke="#000" stroke-width="1"/>
<line x1="431.6" y1="411.2" x2="431.6" y2="414.0" stroke="#000" stroke-width="1"/>
<line x1="435.5" y1="411.2" x2="435.5" y2="414.0" stroke="#000" stroke-width="1"/>
<line x1="438.9" y1="411.2" x2="438.9" y2="414.0" stroke="#000" stroke-width="1"/>
<line x1="442.0" y1="411.3" x2="442.0" y2="415.8" stroke="#000" stroke-width="1"/>
<line x1="462.1" y1="411.4" x2="462.1" y2="414.2" stroke="#000" stroke-width="1"/>
<line x1="473.9" y1="411.4" x2="473.9" y2="414.2" stroke="#000" stroke-width="1"/>
<line x1="482.3" y1="411.5" x2="482.3" y2="414.3" stroke="#000" stroke-width="1"/>
<line x1="488.8" y1="411.5" x2="488.8" y2="414.3" stroke="#000" stroke-width="1"/>
<line x1="494.1" y1="411.5" x2="494.1" y2="414.3" stroke="#000" stroke-width="1"/>
<line x1="498.6" y1="411.5" x2="498.6" y2="414.3" stroke="#000" stroke-width="1"/>
<line x1="502.5" y1="411.6" x2="502.5" y2="414.4" stroke="#000" stroke-width="1"/>
<line x1="505.9" y1="411.6" x2="505.9" y2="414.4" stroke="#000" stroke-width="1"/>
<line x1="509.0" y1="411.6" x2="509.0" y2="416.1" stroke="#000" stroke-width="1"/>
<text x="310.9" y="425.9" text-anchor="end" style="font-family:'Liberation Sans',sans-serif;font-size:8.5px" fill="#222">10</text>
<text x="311.5" y="421.3" text-anchor="start" style="font-family:'Liberation Sans',sans-serif;font-size:8.5px" fill="#222">0</text>
<text x="377.9" y="426.2" text-anchor="end" style="font-family:'Liberation Sans',sans-serif;font-size:8.5px" fill="#222">10</text>
<text x="378.5" y="421.6" text-anchor="start" style="font-family:'Liberation Sans',sans-serif;font-size:8.5px" fill="#222">1</text>
<text x="445.0" y="426.6" text-anchor="end" style="font-family:'Liberation Sans',sans-serif;font-size:8.5px" fill="#222">10</text>
<text x="445.6" y="422.0" text-anchor="start" style="font-family:'Liberation Sans',sans-serif;font-size:8.5px" fill="#222">2</text>
<text x="512.0" y="426.9" text-anchor="end" style="font-family:'Liberation Sans',sans-serif;font-size:8.5px" fill="#222">10</text>
<text x="512.6" y="422.3" text-anchor="start" style="font-family:'Liberation Sans',sans-serif;font-size:8.5px" fill="#222">3</text>
<text x="409.1" y="435.6" text-anchor="middle" style="font-family:'Liberation Sans',sans-serif;font-size:8.9px" fill="#222">FL2-H</text>
<text x="494.7" y="285.0" text-anchor="middle" style="font-family:'Liberation Sans',sans-serif;font-size:17px;font-weight:bold" fill="#000">E</text>
<path d="M306.3 616.8 L306.7 613.9 L307.3 605.7 L308.4 593.9 L309.6 582.0 L310.2 570.9 L311.3 560.1 L312.5 548.4 L313.7 536.3 L314.8 524.9 L315.4 512.4 L316.6 501.5 L317.1 489.6 L318.9 486.2 L320.6 488.2 L322.4 489.7 L323.3 500.8 L324.5 512.1 L325.8 523.5 L326.4 535.6 L327.6 547.6 L328.7 559.6 L329.9 570.4 L331.6 582.2 L333.4 594.6 L335.1 605.8 L338.0 614.1 L339.8 614.9 L341.5 615.6 L343.2 616.9 L345.0 617.5 L346.6 617.8 L348.1 617.7 L349.7 617.6 L351.3 618.2 L352.9 618.3 L354.4 618.2 L356.0 618.4 L356.0 619.4 L306.3 619.4 Z" fill="#b0b0b0" stroke="none" filter="url(#nz)"/>
<path d="M327.8 617.1 L328.8 617.1 L328.8 617.1 L329.8 617.1 L329.8 615.6 L330.8 615.6 L330.8 614.9 L331.8 614.9 L331.8 615.8 L332.8 615.8 L332.8 615.5 L333.8 615.5 L333.8 613.8 L334.8 613.8 L334.8 613.1 L336.0 613.1 L336.0 612.1 L337.1 612.1 L337.1 612.0 L338.3 612.0 L338.3 611.3 L339.4 611.3 L339.4 611.2 L340.6 611.2 L340.6 610.6 L341.8 610.6 L341.8 609.1 L342.9 609.1 L342.9 608.8 L344.1 608.8 L344.1 608.3 L345.2 608.3 L345.2 607.7 L346.4 607.7 L346.4 606.2 L347.4 606.2 L347.4 606.6 L348.4 606.6 L348.4 606.5 L349.4 606.5 L349.4 607.1 L350.4 607.1 L350.4 604.6 L351.4 604.6 L351.4 605.9 L352.4 605.9 L352.4 603.5 L353.4 603.5 L353.4 604.9 L354.5 604.9 L354.5 604.8 L355.7 604.8 L355.7 604.3 L356.9 604.3 L356.9 605.6 L358.0 605.6 L358.0 604.7 L359.1 604.7 L359.1 603.7 L360.3 603.7 L360.3 604.4 L361.3 604.4 L361.3 604.8 L362.3 604.8 L362.3 603.8 L363.3 603.8 L363.3 602.4 L364.3 602.4 L364.3 601.9 L365.3 601.9 L365.3 601.4 L366.3 601.4 L366.3 602.1 L367.3 602.1 L367.3 600.6 L368.4 600.6 L368.4 599.8 L369.6 599.8 L369.6 599.8 L370.8 599.8 L370.8 598.8 L371.9 598.8 L371.9 597.8 L373.1 597.8 L373.1 598.8 L374.2 598.8 L374.2 599.2 L375.2 599.2 L375.2 597.8 L376.2 597.8 L376.2 596.6 L377.2 596.6 L377.2 594.8 L378.2 594.8 L378.2 594.1 L379.2 594.1 L379.2 592.9 L380.2 592.9 L380.2 593.9 L381.2 593.9 L381.2 594.1 L382.4 594.1 L382.4 591.4 L383.5 591.4 L383.5 593.4 L384.6 593.4 L384.6 591.2 L385.8 591.2 L385.8 592.1 L387.0 592.1 L387.0 592.0 L388.1 592.0 L388.1 592.1 L389.1 592.1 L389.1 588.3 L390.1 588.3 L390.1 587.3 L391.1 587.3 L391.1 588.8 L392.1 588.8 L392.1 584.8 L393.2 584.8 L393.2 582.8 L394.2 582.8 L394.2 584.0 L395.2 584.0 L395.2 583.8 L396.2 583.8 L396.2 585.5 L397.3 585.5 L397.3 585.5 L398.3 585.5 L398.3 584.2 L399.4 584.2 L399.4 585.8 L400.4 585.8 L400.4 583.9 L401.5 583.9 L401.5 582.9 L402.6 582.9 L402.6 584.3 L403.7 584.3 L403.7 583.9 L404.7 583.9 L404.7 584.0 L405.8 584.0 L405.8 585.6 L406.9 585.6 L406.9 585.7 L408.0 585.7 L408.0 589.4 L409.1 589.4 L409.1 590.6 L410.1 590.6 L410.1 591.2 L411.2 591.2 L411.2 590.3 L412.3 590.3 L412.3 591.8 L413.4 591.8 L413.4 593.4 L414.5 593.4 L414.5 595.5 L415.5 595.5 L415.5 597.2 L416.6 597.2 L416.6 600.0 L417.7 600.0 L417.7 602.2 L418.8 602.2 L418.8 602.0 L419.9 602.0 L419.9 602.4 L420.9 602.4 L420.9 604.0 L422.0 604.0 L422.0 606.6 L423.1 606.6 L423.1 606.3 L424.2 606.3 L424.2 607.1 L425.3 607.1 L425.3 608.8 L426.3 608.8 L426.3 608.2 L427.4 608.2 L427.4 608.8 L428.5 608.8 L428.5 611.5 L429.5 611.5 L429.5 612.2 L430.5 612.2 L430.5 611.9 L431.5 611.9 L431.5 611.0 L432.5 611.0 L432.5 612.8 L433.5 612.8 L433.5 613.3 L434.5 613.3 L434.5 614.1 L435.5 614.1 L435.5 615.0 L436.5 615.0 L436.5 615.4 L437.5 615.4 L437.5 614.5 L438.6 614.5 L438.6 613.6 L439.6 613.6 L439.6 613.7 L440.7 613.7 L440.7 614.3 L441.7 614.3 L441.7 614.7 L442.7 614.7 L442.7 614.4 L443.8 614.4 L443.8 614.3 L444.8 614.3 L444.8 615.4 L445.8 615.4 L445.8 615.9 L446.9 615.9 L446.9 615.8 L447.9 615.8 L447.9 617.1 L449.0 617.1 L449.0 617.1 L450.0 617.1 L450.0 616.1 L451.0 616.1 L451.0 616.4 L452.0 616.4 L452.0 617.3 L453.0 617.3 L453.0 616.9 L454.0 616.9 L454.0 617.5 L455.0 617.5 L455.0 616.7 L456.0 616.7 L456.0 616.9 L457.0 616.9 L457.0 617.9 L458.0 617.9 L458.0 618.1 L459.0 618.1 L459.0 618.3 L460.0 618.3 L460.0 617.8 L461.0 617.8 L461.0 618.1 L462.0 618.1 L462.0 618.4 L463.0 618.4 L463.0 618.2 L464.0 618.2 L464.0 618.7 L465.0 618.7 L465.0 618.9 L466.0 618.9 L466.0 619.1 L467.0 619.1 L467.0 619.1 L468.0 619.1 L468.0 619.1 L469.0 619.1 L469.0 619.1 L470.0 619.1 L470.0 619.1" fill="none" stroke="#000" stroke-width="1.1" stroke-dasharray="1 2.3"/>
<path d="M330.0 619.1 L331.0 619.1 L331.0 618.7 L332.1 618.7 L332.1 618.5 L333.1 618.5 L333.1 618.4 L334.1 618.4 L334.1 618.7 L335.1 618.7 L335.1 619.0 L336.1 619.0 L336.1 619.0 L337.2 619.0 L337.2 619.1 L338.2 619.1 L338.2 618.5 L339.2 618.5 L339.2 618.1 L340.2 618.1 L340.2 618.6 L341.3 618.6 L341.3 618.4 L342.3 618.4 L342.3 618.7 L343.3 618.7 L343.3 618.4 L344.3 618.4 L344.3 618.1 L345.4 618.1 L345.4 618.1 L346.4 618.1 L346.4 617.9 L347.6 617.9 L347.6 618.0 L348.7 618.0 L348.7 617.4 L349.9 617.4 L349.9 616.6 L351.0 616.6 L351.0 615.8 L352.2 615.8 L352.2 615.0 L353.4 615.0 L353.4 613.8 L354.5 613.8 L354.5 613.9 L355.7 613.9 L355.7 613.3 L356.9 613.3 L356.9 613.3 L358.0 613.3 L358.0 612.2 L359.2 612.2 L359.2 611.7 L360.4 611.7 L360.4 610.4 L361.5 610.4 L361.5 609.1 L362.6 609.1 L362.6 609.5 L363.8 609.5 L363.8 609.1 L364.9 609.1 L364.9 607.6 L366.1 607.6 L366.1 607.5 L367.2 607.5 L367.2 606.8 L368.4 606.8 L368.4 605.1 L369.6 605.1 L369.6 604.6 L370.8 604.6 L370.8 604.6 L371.9 604.6 L371.9 603.3 L373.1 603.3 L373.1 603.2 L374.2 603.2 L374.2 601.2 L375.4 601.2 L375.4 600.1 L376.6 600.1 L376.6 599.8 L377.7 599.8 L377.7 598.2 L378.9 598.2 L378.9 597.2 L380.0 597.2 L380.0 597.5 L381.1 597.5 L381.1 596.1 L382.2 596.1 L382.2 595.6 L383.2 595.6 L383.2 593.6 L384.3 593.6 L384.3 591.9 L385.4 591.9 L385.4 591.0 L386.5 591.0 L386.5 589.8 L387.6 589.8 L387.6 590.7 L388.6 590.7 L388.6 589.0 L389.7 589.0 L389.7 588.5 L390.8 588.5 L390.8 586.7 L391.9 586.7 L391.9 586.5 L393.0 586.5 L393.0 585.6 L394.0 585.6 L394.0 584.8 L395.1 584.8 L395.1 583.1 L396.2 583.1 L396.2 582.1 L397.3 582.1 L397.3 582.7 L398.3 582.7 L398.3 581.1 L399.4 581.1 L399.4 579.6 L400.4 579.6 L400.4 578.1 L401.5 578.1 L401.5 577.1 L402.5 577.1 L402.5 576.5 L403.6 576.5 L403.6 575.5 L404.6 575.5 L404.6 576.4 L405.6 576.4 L405.6 575.7 L406.6 575.7 L406.6 576.1 L407.6 576.1 L407.6 578.2 L408.6 578.2 L408.6 578.1 L409.6 578.1 L409.6 579.0 L410.6 579.0 L410.6 581.7 L411.6 581.7 L411.6 581.7 L412.7 581.7 L412.7 583.2 L413.7 583.2 L413.7 585.5 L414.7 585.5 L414.7 587.3 L415.7 587.3 L415.7 587.2 L416.7 587.2 L416.7 588.4 L417.7 588.4 L417.7 590.6 L418.7 590.6 L418.7 591.5 L419.7 591.5 L419.7 594.0 L420.7 594.0 L420.7 594.1 L421.7 594.1 L421.7 596.6 L422.7 596.6 L422.7 597.5 L423.8 597.5 L423.8 598.0 L424.8 598.0 L424.8 599.5 L425.8 599.5 L425.8 600.3 L426.8 600.3 L426.8 602.3 L427.8 602.3 L427.8 603.1 L428.8 603.1 L428.8 605.2 L429.8 605.2 L429.8 606.3 L430.8 606.3 L430.8 606.8 L431.9 606.8 L431.9 607.3 L432.9 607.3 L432.9 608.7 L433.9 608.7 L433.9 609.2 L435.0 609.2 L435.0 610.7 L436.0 610.7 L436.0 610.5 L437.1 610.5 L437.1 611.3 L438.1 611.3 L438.1 612.1 L439.2 612.1 L439.2 612.4 L440.2 612.4 L440.2 613.2 L441.2 613.2 L441.2 613.2 L442.2 613.2 L442.2 613.8 L443.2 613.8 L443.2 614.1 L444.3 614.1 L444.3 614.0 L445.3 614.0 L445.3 614.3 L446.3 614.3 L446.3 614.2 L447.3 614.2 L447.3 614.4 L448.3 614.4 L448.3 615.4 L449.4 615.4 L449.4 615.4 L450.4 615.4 L450.4 615.8 L451.5 615.8 L451.5 615.5 L452.5 615.5 L452.5 616.0 L453.5 616.0 L453.5 616.1 L454.6 616.1 L454.6 616.5 L455.6 616.5 L455.6 616.5 L456.6 616.5 L456.6 616.4 L457.7 616.4 L457.7 616.7 L458.7 616.7 L458.7 616.9 L459.8 616.9 L459.8 617.0 L460.8 617.0 L460.8 617.7 L461.8 617.7 L461.8 617.7 L462.8 617.7 L462.8 617.8 L463.8 617.8 L463.8 618.5 L464.8 618.5 L464.8 618.7 L465.8 618.7 L465.8 618.9 L466.8 618.9 L466.8 619.1 L467.8 619.1 L467.8 618.6 L468.9 618.6 L468.9 618.5 L469.9 618.5 L469.9 618.4 L470.9 618.4 L470.9 618.9 L471.9 618.9 L471.9 619.1 L472.9 619.1 L472.9 619.1 L473.9 619.1 L473.9 619.1 L474.9 619.1 L474.9 619.1 L475.9 619.1 L475.9 619.1 L476.9 619.1 L476.9 619.1 L477.9 619.1 L477.9 619.1 L478.9 619.1 L478.9 619.1 L479.9 619.1 L479.9 619.1 L480.9 619.1 L480.9 619.1 L481.9 619.1 L481.9 619.1 L482.9 619.1 L482.9 619.1 L483.9 619.1 L483.9 619.1 L484.9 619.1 L484.9 619.1 L485.9 619.1 L485.9 619.1 L486.9 619.1 L486.9 619.1 L487.9 619.1 L487.9 619.1 L488.9 619.1 L488.9 619.1 L489.9 619.1 L489.9 619.1 L490.9 619.1 L490.9 619.1 L492.0 619.1 L492.0 619.1 L493.0 619.1 L493.0 619.1 L494.0 619.1 L494.0 619.1 L495.0 619.1 L495.0 619.1 L496.0 619.1 L496.0 619.1 L497.0 619.1 L497.0 619.1 L498.0 619.1 L498.0 619.1 L499.0 619.1 L499.0 619.1 L500.0 619.1 L500.0 619.1 L501.0 619.1 L501.0 619.1 L502.0 619.1 L502.0 619.1 L503.0 619.1 L503.0 619.1 L504.0 619.1 L504.0 619.1 L505.0 619.1 L505.0 619.1 L506.0 619.1 L506.0 619.1" fill="none" stroke="#666" stroke-width="1.55" stroke-linejoin="miter"/>
<path d="M306.2 618.2 L307.2 618.2 L307.2 618.9 L308.2 618.9 L308.2 618.9 L309.2 618.9 L309.2 618.3 L310.2 618.3 L310.2 618.2 L311.2 618.2 L311.2 618.0 L312.2 618.0 L312.2 618.7 L313.2 618.7 L313.2 618.4 L314.2 618.4 L314.2 619.0 L315.2 619.0 L315.2 619.1 L316.2 619.1 L316.2 618.4 L317.2 618.4 L317.2 618.8 L318.2 618.8 L318.2 618.6 L319.2 618.6 L319.2 618.9 L320.2 618.9 L320.2 619.1 L321.2 619.1 L321.2 618.7 L322.2 618.7 L322.2 618.2 L323.2 618.2 L323.2 619.0 L324.4 619.0 L324.4 618.2 L325.5 618.2 L325.5 618.3 L326.6 618.3 L326.6 617.8 L327.8 617.8 L327.8 617.4 L329.0 617.4 L329.0 616.6 L330.1 616.6 L330.1 615.4 L331.3 615.4 L331.3 613.9 L332.5 613.9 L332.5 611.2 L333.6 611.2 L333.6 610.7 L334.8 610.7 L334.8 608.9 L336.0 608.9 L336.0 607.5 L337.1 607.5 L337.1 607.3 L338.3 607.3 L338.3 603.9 L339.5 603.9 L339.5 603.9 L340.6 603.9 L340.6 600.9 L341.8 600.9 L341.8 601.1 L342.9 601.1 L342.9 601.5 L344.1 601.5 L344.1 599.5 L345.2 599.5 L345.2 599.2 L346.4 599.2 L346.4 600.3 L347.5 600.3 L347.5 599.6 L348.7 599.6 L348.7 598.8 L349.9 598.8 L349.9 597.2 L351.0 597.2 L351.0 595.7 L352.2 595.7 L352.2 596.4 L353.4 596.4 L353.4 597.1 L354.5 597.1 L354.5 596.9 L355.7 596.9 L355.7 597.3 L356.9 597.3 L356.9 596.1 L358.0 596.1 L358.0 597.3 L359.1 597.3 L359.1 597.4 L360.3 597.4 L360.3 595.6 L361.5 595.6 L361.5 595.3 L362.6 595.3 L362.6 596.4 L363.8 596.4 L363.8 596.8 L365.0 596.8 L365.0 598.9 L366.1 598.9 L366.1 597.3 L367.3 597.3 L367.3 596.2 L368.5 596.2 L368.5 597.7 L369.6 597.7 L369.6 595.5 L370.8 595.5 L370.8 595.3 L371.9 595.3 L371.9 593.9 L373.1 593.9 L373.1 594.6 L374.2 594.6 L374.2 593.4 L375.4 593.4 L375.4 593.5 L376.5 593.5 L376.5 590.9 L377.7 590.9 L377.7 591.4 L378.9 591.4 L378.9 591.1 L380.0 591.1 L380.0 590.9 L381.2 590.9 L381.2 592.2 L382.4 592.2 L382.4 593.2 L383.5 593.2 L383.5 591.0 L384.7 591.0 L384.7 589.7 L385.9 589.7 L385.9 588.9 L387.0 588.9 L387.0 587.4 L388.2 587.4 L388.2 585.6 L389.5 585.6 L389.5 585.8 L390.8 585.8 L390.8 585.4 L391.8 585.4 L391.8 586.8 L392.8 586.8 L392.8 586.0 L393.8 586.0 L393.8 583.8 L394.8 583.8 L394.8 583.3 L395.8 583.3 L395.8 584.7 L396.8 584.7 L396.8 585.3 L397.8 585.3 L397.8 585.1 L398.8 585.1 L398.8 585.0 L399.8 585.0 L399.8 585.4 L400.9 585.4 L400.9 590.2 L401.9 590.2 L401.9 591.9 L402.9 591.9 L402.9 590.6 L403.9 590.6 L403.9 593.1 L404.9 593.1 L404.9 595.7 L405.9 595.7 L405.9 595.8 L406.9 595.8 L406.9 594.8 L408.0 594.8 L408.0 596.3 L409.1 596.3 L409.1 597.4 L410.1 597.4 L410.1 597.7 L411.2 597.7 L411.2 599.6 L412.3 599.6 L412.3 599.3 L413.4 599.3 L413.4 602.7 L414.5 602.7 L414.5 604.0 L415.5 604.0 L415.5 605.0 L416.6 605.0 L416.6 607.0 L417.7 607.0 L417.7 607.7 L418.8 607.7 L418.8 607.1 L419.9 607.1 L419.9 607.3 L420.9 607.3 L420.9 607.6 L422.0 607.6 L422.0 607.9 L423.1 607.9 L423.1 610.4 L424.2 610.4 L424.2 611.6 L425.3 611.6 L425.3 611.1 L426.5 611.1 L426.5 610.8 L427.6 610.8 L427.6 611.9 L428.7 611.9 L428.7 613.1 L429.8 613.1 L429.8 614.0 L430.8 614.0 L430.8 612.8 L431.9 612.8 L431.9 613.8 L432.9 613.8 L432.9 614.5 L434.0 614.5 L434.0 614.7 L435.0 614.7 L435.0 614.1 L436.1 614.1 L436.1 613.7 L437.1 613.7 L437.1 614.9 L438.2 614.9 L438.2 614.6 L439.2 614.6 L439.2 614.8 L440.2 614.8 L440.2 615.2 L441.3 615.2 L441.3 615.2 L442.3 615.2 L442.3 616.1 L443.4 616.1 L443.4 615.5 L444.4 615.5 L444.4 615.0 L445.4 615.0 L445.4 615.8 L446.5 615.8 L446.5 616.3 L447.5 616.3 L447.5 617.0 L448.5 617.0 L448.5 617.2 L449.6 617.2 L449.6 617.7 L450.6 617.7 L450.6 618.0 L451.7 618.0 L451.7 617.5 L452.7 617.5 L452.7 617.4 L453.7 617.4 L453.7 616.9 L454.7 616.9 L454.7 617.0 L455.7 617.0 L455.7 617.5 L456.7 617.5 L456.7 617.1 L457.7 617.1 L457.7 617.9 L458.7 617.9 L458.7 617.6 L459.7 617.6 L459.7 617.9 L460.8 617.9 L460.8 618.8 L461.8 618.8 L461.8 618.1 L462.8 618.1 L462.8 617.9 L463.8 617.9 L463.8 618.3 L464.8 618.3 L464.8 618.4 L465.8 618.4 L465.8 619.0 L466.8 619.0 L466.8 618.7 L467.8 618.7 L467.8 619.1 L468.8 619.1 L468.8 619.1 L469.8 619.1 L469.8 619.1 L470.8 619.1 L470.8 619.1 L471.8 619.1 L471.8 619.1 L472.8 619.1 L472.8 619.1 L473.8 619.1 L473.8 619.1 L474.8 619.1 L474.8 619.1 L475.8 619.1 L475.8 619.1 L476.8 619.1 L476.8 619.1 L477.8 619.1 L477.8 619.1 L478.9 619.1 L478.9 619.1 L479.9 619.1 L479.9 619.1 L480.9 619.1 L480.9 619.1 L481.9 619.1 L481.9 619.1 L482.9 619.1 L482.9 619.1 L483.9 619.1 L483.9 619.1 L484.9 619.1 L484.9 619.1 L485.9 619.1 L485.9 619.1 L486.9 619.1 L486.9 619.1 L487.9 619.1 L487.9 619.1 L488.9 619.1 L488.9 619.1 L489.9 619.1 L489.9 619.1 L490.9 619.1 L490.9 619.1 L491.9 619.1 L491.9 619.1 L492.9 619.1 L492.9 619.1 L493.9 619.1 L493.9 619.1 L494.9 619.1 L494.9 619.1 L495.9 619.1 L495.9 619.1 L497.0 619.1 L497.0 619.1 L498.0 619.1 L498.0 619.1 L499.0 619.1 L499.0 619.1 L500.0 619.1 L500.0 619.1 L501.0 619.1 L501.0 619.1 L502.0 619.1 L502.0 619.1 L503.0 619.1 L503.0 619.1 L504.0 619.1 L504.0 619.1 L505.0 619.1 L505.0 619.1 L506.0 619.1 L506.0 619.1" fill="none" stroke="#000" stroke-width="0.95"/>
<path d="M306.1 474.6 L508.4 475.8 L508.4 620.6" fill="none" stroke="#222" stroke-width="1"/>
<line x1="306.1" y1="474.2" x2="306.1" y2="620.0" stroke="#000" stroke-width="1.3"/>
<line x1="305.5" y1="619.4" x2="508.8" y2="620.6" stroke="#000" stroke-width="1.5"/>
<line x1="301.3" y1="474.6" x2="306.1" y2="474.6" stroke="#000" stroke-width="1"/>
<line x1="303.3" y1="480.4" x2="306.1" y2="480.4" stroke="#000" stroke-width="1"/>
<line x1="303.3" y1="486.2" x2="306.1" y2="486.2" stroke="#000" stroke-width="1"/>
<line x1="303.3" y1="492.0" x2="306.1" y2="492.0" stroke="#000" stroke-width="1"/>
<line x1="303.3" y1="497.8" x2="306.1" y2="497.8" stroke="#000" stroke-width="1"/>
<line x1="301.3" y1="503.6" x2="306.1" y2="503.6" stroke="#000" stroke-width="1"/>
<line x1="303.3" y1="509.4" x2="306.1" y2="509.4" stroke="#000" stroke-width="1"/>
<line x1="303.3" y1="515.1" x2="306.1" y2="515.1" stroke="#000" stroke-width="1"/>
<line x1="303.3" y1="520.9" x2="306.1" y2="520.9" stroke="#000" stroke-width="1"/>
<line x1="303.3" y1="526.7" x2="306.1" y2="526.7" stroke="#000" stroke-width="1"/>
<line x1="301.3" y1="532.5" x2="306.1" y2="532.5" stroke="#000" stroke-width="1"/>
<line x1="303.3" y1="538.3" x2="306.1" y2="538.3" stroke="#000" stroke-width="1"/>
<line x1="303.3" y1="544.1" x2="306.1" y2="544.1" stroke="#000" stroke-width="1"/>
<line x1="303.3" y1="549.9" x2="306.1" y2="549.9" stroke="#000" stroke-width="1"/>
<line x1="303.3" y1="555.7" x2="306.1" y2="555.7" stroke="#000" stroke-width="1"/>
<line x1="301.3" y1="561.5" x2="306.1" y2="561.5" stroke="#000" stroke-width="1"/>
<line x1="303.3" y1="567.3" x2="306.1" y2="567.3" stroke="#000" stroke-width="1"/>
<line x1="303.3" y1="573.1" x2="306.1" y2="573.1" stroke="#000" stroke-width="1"/>
<line x1="303.3" y1="578.9" x2="306.1" y2="578.9" stroke="#000" stroke-width="1"/>
<line x1="303.3" y1="584.6" x2="306.1" y2="584.6" stroke="#000" stroke-width="1"/>
<line x1="301.3" y1="590.4" x2="306.1" y2="590.4" stroke="#000" stroke-width="1"/>
<line x1="303.3" y1="596.2" x2="306.1" y2="596.2" stroke="#000" stroke-width="1"/>
<line x1="303.3" y1="602.0" x2="306.1" y2="602.0" stroke="#000" stroke-width="1"/>
<line x1="303.3" y1="607.8" x2="306.1" y2="607.8" stroke="#000" stroke-width="1"/>
<line x1="303.3" y1="613.6" x2="306.1" y2="613.6" stroke="#000" stroke-width="1"/>
<line x1="301.3" y1="619.4" x2="306.1" y2="619.4" stroke="#000" stroke-width="1"/>
<text transform="translate(298.3 472.0) rotate(-90)" text-anchor="middle" style="font-family:'Liberation Sans',sans-serif;font-size:8.5px" fill="#222">300</text>
<text transform="translate(298.3 501.0) rotate(-90)" text-anchor="middle" style="font-family:'Liberation Sans',sans-serif;font-size:8.5px" fill="#222">240</text>
<text transform="translate(298.3 529.9) rotate(-90)" text-anchor="middle" style="font-family:'Liberation Sans',sans-serif;font-size:8.5px" fill="#222">180</text>
<text transform="translate(298.3 558.9) rotate(-90)" text-anchor="middle" style="font-family:'Liberation Sans',sans-serif;font-size:8.5px" fill="#222">120</text>
<text transform="translate(298.3 588.9) rotate(-90)" text-anchor="middle" style="font-family:'Liberation Sans',sans-serif;font-size:8.5px" fill="#222">60</text>
<text transform="translate(298.3 617.4) rotate(-90)" text-anchor="middle" style="font-family:'Liberation Sans',sans-serif;font-size:8.5px" fill="#222">0</text>
<text transform="translate(288.0 548.2) rotate(-90)" text-anchor="middle" style="font-family:'Liberation Sans',sans-serif;font-size:8.8px" fill="#222">Counts</text>
<line x1="306.1" y1="619.4" x2="306.1" y2="623.9" stroke="#000" stroke-width="1"/>
<line x1="326.1" y1="619.5" x2="326.1" y2="622.3" stroke="#000" stroke-width="1"/>
<line x1="337.8" y1="619.6" x2="337.8" y2="622.4" stroke="#000" stroke-width="1"/>
<line x1="346.1" y1="619.6" x2="346.1" y2="622.4" stroke="#000" stroke-width="1"/>
<line x1="352.6" y1="619.7" x2="352.6" y2="622.5" stroke="#000" stroke-width="1"/>
<line x1="357.8" y1="619.7" x2="357.8" y2="622.5" stroke="#000" stroke-width="1"/>
<line x1="362.3" y1="619.7" x2="362.3" y2="622.5" stroke="#000" stroke-width="1"/>
<line x1="366.1" y1="619.8" x2="366.1" y2="622.6" stroke="#000" stroke-width="1"/>
<line x1="369.5" y1="619.8" x2="369.5" y2="622.6" stroke="#000" stroke-width="1"/>
<line x1="372.6" y1="619.8" x2="372.6" y2="624.3" stroke="#000" stroke-width="1"/>
<line x1="392.6" y1="619.9" x2="392.6" y2="622.7" stroke="#000" stroke-width="1"/>
<line x1="404.3" y1="620.0" x2="404.3" y2="622.8" stroke="#000" stroke-width="1"/>
<line x1="412.6" y1="620.0" x2="412.6" y2="622.8" stroke="#000" stroke-width="1"/>
<line x1="419.0" y1="620.1" x2="419.0" y2="622.9" stroke="#000" stroke-width="1"/>
<line x1="424.3" y1="620.1" x2="424.3" y2="622.9" stroke="#000" stroke-width="1"/>
<line x1="428.7" y1="620.1" x2="428.7" y2="622.9" stroke="#000" stroke-width="1"/>
<line x1="432.6" y1="620.2" x2="432.6" y2="623.0" stroke="#000" stroke-width="1"/>
<line x1="436.0" y1="620.2" x2="436.0" y2="623.0" stroke="#000" stroke-width="1"/>
<line x1="439.0" y1="620.2" x2="439.0" y2="624.7" stroke="#000" stroke-width="1"/>
<line x1="459.0" y1="620.3" x2="459.0" y2="623.1" stroke="#000" stroke-width="1"/>
<line x1="470.7" y1="620.4" x2="470.7" y2="623.2" stroke="#000" stroke-width="1"/>
<line x1="479.1" y1="620.4" x2="479.1" y2="623.2" stroke="#000" stroke-width="1"/>
<line x1="485.5" y1="620.5" x2="485.5" y2="623.3" stroke="#000" stroke-width="1"/>
<line x1="490.8" y1="620.5" x2="490.8" y2="623.3" stroke="#000" stroke-width="1"/>
<line x1="495.2" y1="620.5" x2="495.2" y2="623.3" stroke="#000" stroke-width="1"/>
<line x1="499.1" y1="620.5" x2="499.1" y2="623.3" stroke="#000" stroke-width="1"/>
<line x1="502.5" y1="620.6" x2="502.5" y2="623.4" stroke="#000" stroke-width="1"/>
<line x1="505.5" y1="620.6" x2="505.5" y2="625.1" stroke="#000" stroke-width="1"/>
<text x="374.8" y="635.8" text-anchor="end" style="font-family:'Liberation Sans',sans-serif;font-size:8.5px" fill="#222">10</text>
<text x="375.4" y="631.2" text-anchor="start" style="font-family:'Liberation Sans',sans-serif;font-size:8.5px" fill="#222">1</text>
<text x="441.2" y="636.2" text-anchor="end" style="font-family:'Liberation Sans',sans-serif;font-size:8.5px" fill="#222">10</text>
<text x="441.8" y="631.6" text-anchor="start" style="font-family:'Liberation Sans',sans-serif;font-size:8.5px" fill="#222">2</text>
<text x="507.7" y="636.6" text-anchor="end" style="font-family:'Liberation Sans',sans-serif;font-size:8.5px" fill="#222">10</text>
<text x="508.3" y="632.0" text-anchor="start" style="font-family:'Liberation Sans',sans-serif;font-size:8.5px" fill="#222">3</text>
<text x="406.6" y="644.1" text-anchor="middle" style="font-family:'Liberation Sans',sans-serif;font-size:8.9px" fill="#222">FL2-H</text>
<text x="494.7" y="494.4" text-anchor="middle" style="font-family:'Liberation Sans',sans-serif;font-size:17px;font-weight:bold" fill="#000">F</text>
</g>
</svg></body></html>
